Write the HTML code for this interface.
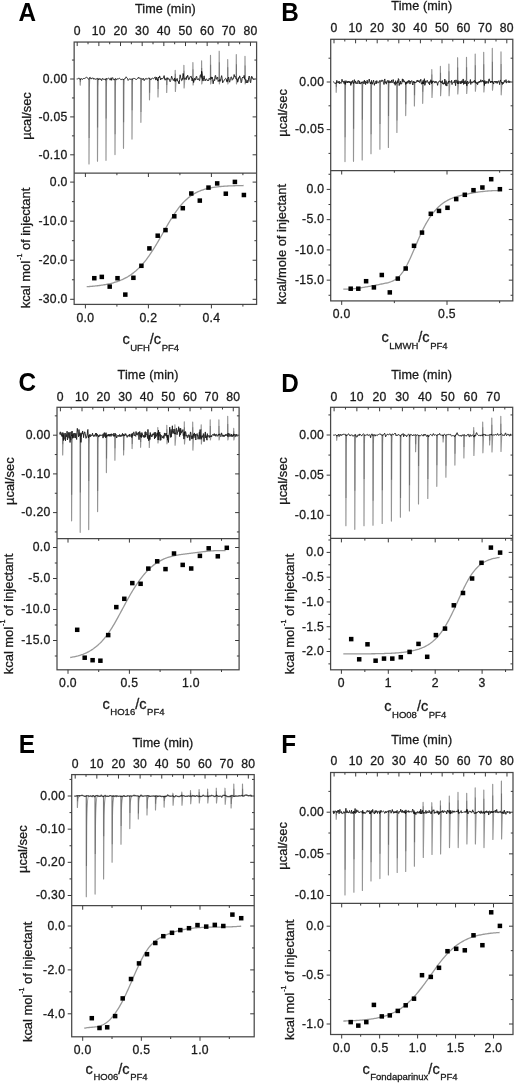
<!DOCTYPE html>
<html><head><meta charset="utf-8"><title>ITC figure</title>
<style>html,body{margin:0;padding:0;background:#fff;}svg{display:block;will-change:transform;}text{font-family:"Liberation Sans", sans-serif;stroke:#1a1a1a;stroke-width:0.3px;}.L{stroke:none;}.t{letter-spacing:0.3px;}</style>
</head><body>
<svg width="520" height="1083" viewBox="0 0 520 1083">
<rect width="520" height="1083" fill="#fff"/>
<text transform="translate(18.60,20.90) scale(0.95,1)" font-size="25.6" font-weight="bold" fill="#000" class="L">A</text>
<rect x="74.15" y="42.05" width="182.45" height="262.35" fill="none" stroke="#484848" stroke-width="1.25"/>
<line x1="74.15" y1="173.00" x2="256.60" y2="173.00" stroke="#484848" stroke-width="1.25"/>
<text x="77.20" y="34.90" text-anchor="middle" class="t" font-size="12.2" fill="#1a1a1a">0</text>
<text x="98.86" y="34.90" text-anchor="middle" class="t" font-size="12.2" fill="#1a1a1a">10</text>
<text x="120.52" y="34.90" text-anchor="middle" class="t" font-size="12.2" fill="#1a1a1a">20</text>
<text x="142.18" y="34.90" text-anchor="middle" class="t" font-size="12.2" fill="#1a1a1a">30</text>
<text x="163.84" y="34.90" text-anchor="middle" class="t" font-size="12.2" fill="#1a1a1a">40</text>
<text x="185.50" y="34.90" text-anchor="middle" class="t" font-size="12.2" fill="#1a1a1a">50</text>
<text x="207.16" y="34.90" text-anchor="middle" class="t" font-size="12.2" fill="#1a1a1a">60</text>
<text x="228.82" y="34.90" text-anchor="middle" class="t" font-size="12.2" fill="#1a1a1a">70</text>
<text x="250.48" y="34.90" text-anchor="middle" class="t" font-size="12.2" fill="#1a1a1a">80</text>
<text x="165.38" y="12.90" text-anchor="middle" font-size="12.6" letter-spacing="0.12" fill="#1a1a1a">Time (min)</text>
<text x="67.70" y="82.80" text-anchor="end" class="t" font-size="12.2" fill="#1a1a1a">0.00</text>
<text x="67.70" y="120.70" text-anchor="end" class="t" font-size="12.2" fill="#1a1a1a">-0.05</text>
<text x="67.70" y="158.60" text-anchor="end" class="t" font-size="12.2" fill="#1a1a1a">-0.10</text>
<text x="67.70" y="185.90" text-anchor="end" class="t" font-size="12.2" fill="#1a1a1a">0.0</text>
<text x="67.70" y="224.97" text-anchor="end" class="t" font-size="12.2" fill="#1a1a1a">-10.0</text>
<text x="67.70" y="264.04" text-anchor="end" class="t" font-size="12.2" fill="#1a1a1a">-20.0</text>
<text x="67.70" y="303.11" text-anchor="end" class="t" font-size="12.2" fill="#1a1a1a">-30.0</text>
<text x="85.40" y="321.70" text-anchor="middle" class="t" font-size="12.2" fill="#1a1a1a">0.0</text>
<text x="148.40" y="321.70" text-anchor="middle" class="t" font-size="12.2" fill="#1a1a1a">0.2</text>
<text x="211.40" y="321.70" text-anchor="middle" class="t" font-size="12.2" fill="#1a1a1a">0.4</text>
<path d="M77.20 42.05L77.20 46.05 M88.03 42.05L88.03 44.25 M98.86 42.05L98.86 46.05 M109.69 42.05L109.69 44.25 M120.52 42.05L120.52 46.05 M131.35 42.05L131.35 44.25 M142.18 42.05L142.18 46.05 M153.01 42.05L153.01 44.25 M163.84 42.05L163.84 46.05 M174.67 42.05L174.67 44.25 M185.50 42.05L185.50 46.05 M196.33 42.05L196.33 44.25 M207.16 42.05L207.16 46.05 M217.99 42.05L217.99 44.25 M228.82 42.05L228.82 46.05 M239.65 42.05L239.65 44.25 M250.48 42.05L250.48 46.05 M71.95 60.05L74.15 60.05 M254.40 60.05L256.60 60.05 M70.15 79.00L74.15 79.00 M252.60 79.00L256.60 79.00 M71.95 97.95L74.15 97.95 M254.40 97.95L256.60 97.95 M70.15 116.90L74.15 116.90 M252.60 116.90L256.60 116.90 M71.95 135.85L74.15 135.85 M254.40 135.85L256.60 135.85 M70.15 154.80L74.15 154.80 M252.60 154.80L256.60 154.80 M70.15 182.10L74.15 182.10 M252.60 182.10L256.60 182.10 M71.95 201.63L74.15 201.63 M254.40 201.63L256.60 201.63 M70.15 221.17L74.15 221.17 M252.60 221.17L256.60 221.17 M71.95 240.70L74.15 240.70 M254.40 240.70L256.60 240.70 M70.15 260.24L74.15 260.24 M252.60 260.24L256.60 260.24 M71.95 279.77L74.15 279.77 M254.40 279.77L256.60 279.77 M70.15 299.31L74.15 299.31 M252.60 299.31L256.60 299.31 M85.40 304.40L85.40 308.40 M85.40 173.00L85.40 177.00 M116.90 304.40L116.90 306.60 M116.90 173.00L116.90 175.20 M148.40 304.40L148.40 308.40 M148.40 173.00L148.40 177.00 M179.90 304.40L179.90 306.60 M179.90 173.00L179.90 175.20 M211.40 304.40L211.40 308.40 M211.40 173.00L211.40 177.00 M242.90 304.40L242.90 306.60 M242.90 173.00L242.90 175.20" stroke="#3a3a3a" stroke-width="1.0" fill="none"/>
<text x="122.40" y="344.00" font-size="14.5" fill="#1a1a1a">c<tspan font-size="9.5" dx="0.6" dy="6.6">UFH</tspan><tspan dy="-6.6">/c</tspan><tspan font-size="9.5" dx="0.6" dy="6.6">PF4</tspan></text>
<text transform="translate(30.60,116.00) rotate(-90)" x="0" y="0" text-anchor="middle" font-size="12.9" fill="#1a1a1a">µcal/sec</text>
<text transform="translate(30.40,248.00) rotate(-90)" x="0" y="0" text-anchor="middle" font-size="12.9" fill="#1a1a1a">kcal mol<tspan font-size="7.10" dx="1.0" dy="-8">-1</tspan><tspan dy="8"> of injectant</tspan></text>
<path d="M76.65 79.00 L77.15 79.16 L77.65 79.01 L78.15 78.37 L78.65 78.27 L79.15 78.22 L79.65 78.49 L80.15 79.76 L80.65 79.46 L81.15 78.39 L81.65 78.93 L82.15 79.46 L82.65 79.25 L83.15 78.55 L83.65 78.47 L84.15 78.38 L84.65 78.64 L85.15 78.01 L85.65 77.70 L86.15 77.25 L86.65 77.28 L87.15 77.86 L87.65 78.17 L88.15 78.45 L88.65 79.24 L89.15 78.98 L89.65 77.50 L90.15 77.31 L90.65 78.67 L91.15 79.04 L91.65 78.21 L92.15 77.88 L92.65 78.19 L93.15 78.00 L93.65 79.14 L94.15 79.14 L94.65 78.53 L95.15 79.48 L95.65 79.17 L96.15 78.61 L96.65 79.00 L97.15 79.10 L97.65 78.35 L98.15 78.35 L98.65 79.81 L99.15 78.89 L99.65 78.61 L100.15 79.55 L100.65 78.71 L101.15 79.77 L101.65 80.56 L102.15 78.75 L102.65 78.36 L103.15 79.37 L103.65 79.22 L104.15 79.28 L104.65 79.35 L105.15 79.34 L105.65 80.20 L106.15 78.14 L106.65 78.73 L107.15 78.85 L107.65 78.81 L108.15 78.39 L108.65 77.99 L109.15 78.56 L109.65 79.40 L110.15 80.17 L110.65 78.90 L111.15 77.78 L111.65 80.31 L112.15 78.23 L112.65 77.58 L113.15 78.68 L113.65 79.67 L114.15 80.12 L114.65 79.21 L115.15 78.60 L115.65 78.64 L116.15 79.74 L116.65 79.64 L117.15 78.57 L117.65 79.03 L118.15 79.13 L118.65 78.81 L119.15 78.24 L119.65 78.34 L120.15 78.73 L120.65 79.42 L121.15 80.06 L121.65 79.37 L122.15 79.38 L122.65 79.19 L123.15 79.42 L123.65 79.61 L124.15 79.34 L124.65 78.58 L125.15 78.44 L125.65 78.21 L126.15 76.80 L126.65 77.62 L127.15 78.29 L127.65 78.56 L128.15 80.43 L128.65 79.84 L129.15 79.22 L129.65 78.75 L130.15 79.41 L130.65 79.19 L131.15 78.77 L131.65 79.30 L132.15 79.73 L132.65 78.69 L133.15 78.34 L133.65 78.97 L134.15 78.39 L134.65 78.52 L135.15 78.64 L135.65 79.07 L136.15 79.70 L136.65 79.17 L137.15 78.70 L137.65 78.57 L138.15 77.73 L138.65 77.11 L139.15 78.54 L139.65 77.93 L140.15 78.23 L140.65 78.46 L141.15 78.40 L141.65 78.95 L142.15 78.96 L142.65 79.55 L143.15 78.15 L143.65 78.83 L144.15 80.64 L144.65 79.84 L145.15 78.79 L145.65 78.74 L146.15 78.31 L146.65 79.08 L147.15 79.34 L147.65 78.64 L148.15 78.48 L148.65 78.13 L149.15 77.83 L149.65 78.99 L150.15 78.62 L150.65 79.54 L151.15 79.68 L151.65 78.50 L152.15 78.22 L152.65 78.29 L153.15 78.54 L153.65 78.68 L154.15 78.39 L154.65 77.42 L155.15 76.87 L155.65 79.86 L156.15 80.03 L156.65 77.13 L157.15 78.20 L157.65 81.01 L158.15 78.94 L158.65 76.97 L159.15 77.94 L159.65 75.91 L160.15 77.64 L160.65 79.97 L161.15 79.07 L161.65 78.02 L162.15 78.57 L162.65 78.88 L163.15 78.00 L163.65 77.17 L164.15 75.61 L164.65 79.17 L165.15 80.21 L165.65 78.69 L166.15 79.38 L166.65 78.31 L167.15 77.61 L167.65 79.18 L168.15 79.48 L168.65 78.34 L169.15 78.81 L169.65 80.76 L170.15 81.72 L170.65 80.56 L171.15 78.73 L171.65 76.15 L172.15 78.37 L172.65 78.37 L173.15 80.21 L173.65 79.59 L174.15 80.94 L174.65 77.98 L175.15 81.58 L175.65 79.68 L176.15 80.56 L176.65 79.39 L177.15 78.43 L177.65 80.99 L178.15 81.01 L178.65 83.05 L179.15 83.95 L179.65 79.50 L180.15 74.82 L180.65 77.72 L181.15 78.71 L181.65 80.65 L182.15 80.22 L182.65 77.81 L183.15 73.46 L183.65 76.27 L184.15 79.45 L184.65 78.70 L185.15 78.69 L185.65 77.79 L186.15 79.70 L186.65 76.52 L187.15 77.32 L187.65 75.13 L188.15 77.32 L188.65 79.66 L189.15 79.51 L189.65 78.14 L190.15 76.56 L190.65 76.54 L191.15 76.20 L191.65 77.98 L192.15 80.96 L192.65 78.37 L193.15 80.03 L193.65 82.51 L194.15 79.94 L194.65 78.25 L195.15 80.19 L195.65 78.85 L196.15 76.82 L196.65 76.16 L197.15 79.42 L197.65 79.98 L198.15 79.00 L198.65 78.69 L199.15 80.29 L199.65 80.69 L200.15 75.69 L200.65 74.69 L201.15 77.47 L201.65 71.22 L202.15 73.36 L202.65 80.20 L203.15 81.06 L203.65 77.32 L204.15 75.84 L204.65 79.28 L205.15 80.92 L205.65 79.31 L206.15 78.99 L206.65 78.98 L207.15 80.26 L207.65 81.03 L208.15 80.15 L208.65 80.65 L209.15 78.20 L209.65 78.74 L210.15 79.61 L210.65 78.73 L211.15 76.89 L211.65 78.78 L212.15 77.00 L212.65 79.60 L213.15 83.77 L213.65 80.50 L214.15 79.46 L214.65 80.73 L215.15 75.64 L215.65 75.45 L216.15 79.28 L216.65 79.03 L217.15 77.51 L217.65 76.98 L218.15 81.48 L218.65 80.52 L219.15 81.29 L219.65 79.50 L220.15 81.29 L220.65 80.47 L221.15 77.58 L221.65 75.67 L222.15 78.63 L222.65 82.82 L223.15 81.84 L223.65 81.39 L224.15 80.18 L224.65 79.49 L225.15 78.94 L225.65 78.31 L226.15 78.77 L226.65 81.37 L227.15 82.13 L227.65 79.75 L228.15 78.04 L228.65 77.16 L229.15 80.46 L229.65 82.19 L230.15 79.87 L230.65 78.58 L231.15 76.80 L231.65 77.22 L232.15 80.22 L232.65 79.73 L233.15 78.06 L233.65 78.32 L234.15 74.55 L234.65 76.75 L235.15 76.22 L235.65 77.34 L236.15 79.05 L236.65 79.17 L237.15 78.71 L237.65 82.19 L238.15 80.84 L238.65 77.61 L239.15 78.38 L239.65 75.87 L240.15 77.48 L240.65 78.19 L241.15 82.77 L241.65 81.68 L242.15 78.30 L242.65 77.10 L243.15 77.89 L243.65 77.58 L244.15 75.41 L244.65 79.26 L245.15 79.57 L245.65 79.27 L246.15 82.98 L246.65 81.72 L247.15 80.24 L247.65 82.83 L248.15 81.68 L248.65 77.79 L249.15 76.02 L249.65 76.99 L250.15 81.33 L250.65 82.73 L251.15 79.03 L251.65 76.25 L252.15 76.92 L252.65 78.68 L253.15 79.13 L253.65 79.01 L254.15 79.78" stroke="#262626" stroke-width="1.0" fill="none" stroke-linejoin="round"/>
<path d="M80.10 79.00L80.20 85.10L80.55 79.61C80.80 79.18 80.65 79.40 81.10 79.00 M88.90 79.00L89.00 163.90L89.35 87.49C89.60 81.55 89.45 79.40 89.90 79.00 M97.40 79.00L97.50 161.20L97.85 87.22C98.10 81.47 97.95 79.40 98.40 79.00 M105.90 79.00L106.00 160.30L106.35 87.13C106.60 81.44 106.45 79.40 106.90 79.00 M114.90 79.00L115.00 154.60L115.35 86.56C115.60 81.27 115.45 79.40 115.90 79.00 M123.40 79.00L123.50 148.30L123.85 85.93C124.10 81.08 123.95 79.40 124.40 79.00 M131.90 79.00L132.00 139.10L132.35 85.01C132.60 80.80 132.45 79.40 132.90 79.00 M140.80 79.00L140.90 122.30L141.25 83.33C141.50 80.30 141.35 79.40 141.80 79.00 M149.40 79.00L149.50 99.80L149.85 81.08C150.10 79.62 149.95 79.40 150.40 79.00 M157.90 79.00L158.00 97.00L158.35 80.80C158.60 79.54 158.45 79.40 158.90 79.00 M166.60 79.00L166.70 92.40L167.05 80.34C167.30 79.40 167.15 79.40 167.60 79.00 M175.10 79.00L175.20 70.40L175.40 91.50L176.10 79.00 M183.80 79.00L183.90 65.30L184.10 88.00L184.80 79.00 M192.80 79.00L192.90 62.60L193.10 85.00L193.80 79.00 M201.50 79.00L201.60 60.80L201.80 84.00L202.50 79.00 M210.40 79.00L210.50 55.40L210.70 84.00L211.40 79.00 M219.10 79.00L219.20 51.20L219.40 84.00L220.10 79.00 M227.60 79.00L227.70 59.50L227.90 84.00L228.60 79.00 M236.20 79.00L236.30 54.50L236.50 84.00L237.20 79.00 M244.90 79.00L245.00 56.30L245.20 84.00L245.90 79.00" stroke="#000" stroke-opacity="0.42" stroke-width="1.15" fill="none" stroke-linejoin="round"/>
<path d="M80.35 79.00L80.35 81.75 M89.15 79.00L89.15 138.01 M97.65 79.00L97.65 127.50 M106.15 79.00L106.15 118.43 M115.15 79.00L115.15 134.19 M123.65 79.00L123.65 122.31 M132.15 79.00L132.15 110.25 M141.05 79.00L141.05 112.12 M149.65 79.00L149.65 92.73 M158.15 79.00L158.15 88.99 M166.85 79.00L166.85 85.03 M175.35 79.00L175.35 73.84 M184.05 79.00L184.05 70.78 M193.05 79.00L193.05 69.16 M201.75 79.00L201.75 68.08 M210.65 79.00L210.65 64.84 M219.35 79.00L219.35 62.32 M227.85 79.00L227.85 67.30 M236.45 79.00L236.45 64.30 M245.15 79.00L245.15 65.38" stroke="#000" stroke-opacity="0.24" stroke-width="1.15" fill="none"/>
<path d="M86.70 286.71 L87.69 286.65 L88.67 286.58 L89.66 286.50 L90.65 286.43 L91.63 286.34 L92.62 286.26 L93.61 286.16 L94.59 286.07 L95.58 285.97 L96.57 285.86 L97.55 285.74 L98.54 285.62 L99.53 285.50 L100.52 285.36 L101.50 285.22 L102.49 285.07 L103.48 284.91 L104.46 284.74 L105.45 284.57 L106.44 284.38 L107.42 284.19 L108.41 283.98 L109.40 283.76 L110.38 283.53 L111.37 283.29 L112.36 283.03 L113.34 282.76 L114.33 282.48 L115.32 282.18 L116.30 281.86 L117.29 281.53 L118.28 281.18 L119.26 280.81 L120.25 280.42 L121.24 280.01 L122.22 279.58 L123.21 279.13 L124.20 278.65 L125.18 278.15 L126.17 277.62 L127.16 277.07 L128.15 276.49 L129.13 275.88 L130.12 275.24 L131.11 274.57 L132.09 273.87 L133.08 273.13 L134.07 272.36 L135.05 271.55 L136.04 270.71 L137.03 269.82 L138.01 268.90 L139.00 267.94 L139.99 266.94 L140.97 265.90 L141.96 264.82 L142.95 263.70 L143.93 262.53 L144.92 261.32 L145.91 260.07 L146.89 258.77 L147.88 257.44 L148.87 256.06 L149.85 254.64 L150.84 253.19 L151.83 251.69 L152.82 250.16 L153.80 248.60 L154.79 247.00 L155.78 245.38 L156.76 243.73 L157.75 242.05 L158.74 240.36 L159.72 238.65 L160.71 236.93 L161.70 235.20 L162.68 233.46 L163.67 231.72 L164.66 229.99 L165.64 228.27 L166.63 226.55 L167.62 224.86 L168.60 223.18 L169.59 221.52 L170.58 219.90 L171.56 218.30 L172.55 216.74 L173.54 215.22 L174.52 213.73 L175.51 212.29 L176.50 210.89 L177.48 209.54 L178.47 208.23 L179.46 206.97 L180.45 205.76 L181.43 204.60 L182.42 203.48 L183.41 202.42 L184.39 201.40 L185.38 200.44 L186.37 199.51 L187.35 198.64 L188.34 197.81 L189.33 197.02 L190.31 196.28 L191.30 195.57 L192.29 194.91 L193.27 194.28 L194.26 193.70 L195.25 193.14 L196.23 192.62 L197.22 192.13 L198.21 191.67 L199.19 191.24 L200.18 190.84 L201.17 190.46 L202.15 190.11 L203.14 189.78 L204.13 189.47 L205.12 189.18 L206.10 188.91 L207.09 188.66 L208.08 188.42 L209.06 188.21 L210.05 188.00 L211.04 187.81 L212.02 187.63 L213.01 187.47 L214.00 187.32 L214.98 187.17 L215.97 187.04 L216.96 186.92 L217.94 186.80 L218.93 186.70 L219.92 186.60 L220.90 186.51 L221.89 186.42 L222.88 186.34 L223.86 186.27 L224.85 186.20 L225.84 186.13 L226.82 186.07 L227.81 186.02 L228.80 185.97 L229.78 185.92 L230.77 185.88 L231.76 185.84 L232.75 185.80 L233.73 185.76 L234.72 185.73 L235.71 185.70 L236.69 185.67 L237.68 185.65 L238.67 185.62 L239.65 185.60 L240.64 185.58 L241.63 185.56 L242.61 185.54 L243.60 185.52" stroke="#999" stroke-width="1.3" fill="none"/>
<g fill="#000"><rect x="92.05" y="275.95" width="4.5" height="4.5"/><rect x="99.55" y="274.65" width="4.5" height="4.5"/><rect x="107.45" y="284.35" width="4.5" height="4.5"/><rect x="115.25" y="275.95" width="4.5" height="4.5"/><rect x="123.05" y="292.35" width="4.5" height="4.5"/><rect x="131.15" y="275.55" width="4.5" height="4.5"/><rect x="139.15" y="263.55" width="4.5" height="4.5"/><rect x="147.15" y="246.15" width="4.5" height="4.5"/><rect x="155.45" y="233.45" width="4.5" height="4.5"/><rect x="163.25" y="227.85" width="4.5" height="4.5"/><rect x="172.05" y="214.05" width="4.5" height="4.5"/><rect x="180.55" y="205.95" width="4.5" height="4.5"/><rect x="189.05" y="191.25" width="4.5" height="4.5"/><rect x="197.55" y="198.35" width="4.5" height="4.5"/><rect x="206.25" y="185.35" width="4.5" height="4.5"/><rect x="214.95" y="181.15" width="4.5" height="4.5"/><rect x="223.55" y="191.45" width="4.5" height="4.5"/><rect x="232.65" y="179.65" width="4.5" height="4.5"/><rect x="241.65" y="192.75" width="4.5" height="4.5"/></g>
<text transform="translate(281.30,20.70) scale(0.95,1)" font-size="25.6" font-weight="bold" fill="#000" class="L">B</text>
<rect x="330.70" y="39.30" width="182.10" height="261.60" fill="none" stroke="#484848" stroke-width="1.25"/>
<line x1="330.70" y1="170.50" x2="512.80" y2="170.50" stroke="#484848" stroke-width="1.25"/>
<text x="334.00" y="32.30" text-anchor="middle" class="t" font-size="12.2" fill="#1a1a1a">0</text>
<text x="355.60" y="32.30" text-anchor="middle" class="t" font-size="12.2" fill="#1a1a1a">10</text>
<text x="377.20" y="32.30" text-anchor="middle" class="t" font-size="12.2" fill="#1a1a1a">20</text>
<text x="398.80" y="32.30" text-anchor="middle" class="t" font-size="12.2" fill="#1a1a1a">30</text>
<text x="420.40" y="32.30" text-anchor="middle" class="t" font-size="12.2" fill="#1a1a1a">40</text>
<text x="442.00" y="32.30" text-anchor="middle" class="t" font-size="12.2" fill="#1a1a1a">50</text>
<text x="463.60" y="32.30" text-anchor="middle" class="t" font-size="12.2" fill="#1a1a1a">60</text>
<text x="485.20" y="32.30" text-anchor="middle" class="t" font-size="12.2" fill="#1a1a1a">70</text>
<text x="506.80" y="32.30" text-anchor="middle" class="t" font-size="12.2" fill="#1a1a1a">80</text>
<text x="421.75" y="9.80" text-anchor="middle" font-size="12.6" letter-spacing="0.12" fill="#1a1a1a">Time (min)</text>
<text x="324.25" y="85.80" text-anchor="end" class="t" font-size="12.2" fill="#1a1a1a">0.00</text>
<text x="324.25" y="133.40" text-anchor="end" class="t" font-size="12.2" fill="#1a1a1a">-0.05</text>
<text x="324.25" y="193.20" text-anchor="end" class="t" font-size="12.2" fill="#1a1a1a">0.0</text>
<text x="324.25" y="223.45" text-anchor="end" class="t" font-size="12.2" fill="#1a1a1a">-5.0</text>
<text x="324.25" y="253.70" text-anchor="end" class="t" font-size="12.2" fill="#1a1a1a">-10.0</text>
<text x="324.25" y="283.95" text-anchor="end" class="t" font-size="12.2" fill="#1a1a1a">-15.0</text>
<text x="341.70" y="318.20" text-anchor="middle" class="t" font-size="12.2" fill="#1a1a1a">0.0</text>
<text x="447.00" y="318.20" text-anchor="middle" class="t" font-size="12.2" fill="#1a1a1a">0.5</text>
<path d="M334.00 39.30L334.00 43.30 M344.80 39.30L344.80 41.50 M355.60 39.30L355.60 43.30 M366.40 39.30L366.40 41.50 M377.20 39.30L377.20 43.30 M388.00 39.30L388.00 41.50 M398.80 39.30L398.80 43.30 M409.60 39.30L409.60 41.50 M420.40 39.30L420.40 43.30 M431.20 39.30L431.20 41.50 M442.00 39.30L442.00 43.30 M452.80 39.30L452.80 41.50 M463.60 39.30L463.60 43.30 M474.40 39.30L474.40 41.50 M485.20 39.30L485.20 43.30 M496.00 39.30L496.00 41.50 M506.80 39.30L506.80 43.30 M328.50 58.20L330.70 58.20 M510.60 58.20L512.80 58.20 M326.70 82.00L330.70 82.00 M508.80 82.00L512.80 82.00 M328.50 105.80L330.70 105.80 M510.60 105.80L512.80 105.80 M326.70 129.60L330.70 129.60 M508.80 129.60L512.80 129.60 M328.50 153.40L330.70 153.40 M510.60 153.40L512.80 153.40 M328.50 174.28L330.70 174.28 M510.60 174.28L512.80 174.28 M326.70 189.40L330.70 189.40 M508.80 189.40L512.80 189.40 M328.50 204.53L330.70 204.53 M510.60 204.53L512.80 204.53 M326.70 219.65L330.70 219.65 M508.80 219.65L512.80 219.65 M328.50 234.78L330.70 234.78 M510.60 234.78L512.80 234.78 M326.70 249.90L330.70 249.90 M508.80 249.90L512.80 249.90 M328.50 265.02L330.70 265.02 M510.60 265.02L512.80 265.02 M326.70 280.15L330.70 280.15 M508.80 280.15L512.80 280.15 M328.50 295.27L330.70 295.27 M510.60 295.27L512.80 295.27 M341.70 300.90L341.70 304.90 M341.70 170.50L341.70 174.50 M394.35 300.90L394.35 303.10 M394.35 170.50L394.35 172.70 M447.00 300.90L447.00 304.90 M447.00 170.50L447.00 174.50 M499.65 300.90L499.65 303.10 M499.65 170.50L499.65 172.70" stroke="#3a3a3a" stroke-width="1.0" fill="none"/>
<text x="381.40" y="342.20" font-size="14.5" fill="#1a1a1a">c<tspan font-size="9.5" dx="0.6" dy="6.6">LMWH</tspan><tspan dy="-6.6">/c</tspan><tspan font-size="9.5" dx="0.6" dy="6.6">PF4</tspan></text>
<text transform="translate(286.90,112.90) rotate(-90)" x="0" y="0" text-anchor="middle" font-size="12.9" fill="#1a1a1a">µcal/sec</text>
<text transform="translate(286.00,244.20) rotate(-90)" x="0" y="0" text-anchor="middle" font-size="12.9" fill="#1a1a1a">kcal/mole of injectant</text>
<path d="M333.20 81.33 L333.60 81.72 L334.00 82.42 L334.40 82.83 L334.80 83.45 L335.20 83.48 L335.60 83.45 L336.00 83.66 L336.40 82.86 L336.80 80.35 L337.20 81.95 L337.60 82.46 L338.00 81.66 L338.40 83.14 L338.80 81.69 L339.20 81.04 L339.60 83.75 L340.00 82.86 L340.40 82.35 L340.80 83.16 L341.20 83.32 L341.60 82.49 L342.00 79.28 L342.40 81.32 L342.80 81.58 L343.20 80.97 L343.60 82.33 L344.00 83.47 L344.40 81.54 L344.80 80.79 L345.20 84.44 L345.60 81.58 L346.00 80.68 L346.40 82.37 L346.80 82.59 L347.20 81.29 L347.60 83.01 L348.00 81.54 L348.40 81.03 L348.80 82.31 L349.20 82.99 L349.60 81.37 L350.00 82.48 L350.40 81.99 L350.80 85.37 L351.20 81.28 L351.60 83.70 L352.00 82.04 L352.40 81.95 L352.80 80.39 L353.20 83.14 L353.60 83.57 L354.00 82.48 L354.40 79.66 L354.80 81.48 L355.20 82.69 L355.60 80.98 L356.00 83.73 L356.40 82.59 L356.80 83.33 L357.20 83.87 L357.60 82.29 L358.00 80.37 L358.40 80.73 L358.80 80.42 L359.20 83.96 L359.60 81.11 L360.00 83.54 L360.40 82.78 L360.80 84.10 L361.20 83.27 L361.60 81.98 L362.00 81.87 L362.40 82.20 L362.80 82.31 L363.20 81.48 L363.60 82.06 L364.00 83.98 L364.40 80.11 L364.80 82.40 L365.20 81.04 L365.60 84.64 L366.00 83.09 L366.40 82.03 L366.80 83.01 L367.20 80.23 L367.60 83.40 L368.00 83.35 L368.40 82.83 L368.80 82.31 L369.20 79.06 L369.60 81.21 L370.00 82.36 L370.40 83.93 L370.80 82.44 L371.20 82.40 L371.60 80.43 L372.00 83.79 L372.40 84.23 L372.80 82.13 L373.20 81.84 L373.60 80.19 L374.00 83.14 L374.40 85.29 L374.80 82.95 L375.20 83.60 L375.60 82.74 L376.00 80.93 L376.40 83.68 L376.80 80.64 L377.20 81.85 L377.60 82.43 L378.00 83.15 L378.40 82.59 L378.80 82.56 L379.20 81.20 L379.60 80.57 L380.00 82.17 L380.40 81.26 L380.80 80.55 L381.20 80.59 L381.60 81.52 L382.00 79.90 L382.40 80.50 L382.80 80.15 L383.20 82.32 L383.60 82.59 L384.00 84.49 L384.40 80.31 L384.80 78.94 L385.20 83.19 L385.60 81.84 L386.00 81.71 L386.40 84.14 L386.80 81.70 L387.20 80.72 L387.60 80.52 L388.00 82.50 L388.40 82.47 L388.80 80.46 L389.20 80.92 L389.60 82.74 L390.00 82.79 L390.40 81.33 L390.80 82.85 L391.20 82.79 L391.60 79.96 L392.00 81.73 L392.40 82.60 L392.80 81.41 L393.20 79.53 L393.60 81.76 L394.00 83.00 L394.40 84.00 L394.80 81.95 L395.20 85.25 L395.60 80.74 L396.00 83.25 L396.40 83.59 L396.80 83.29 L397.20 82.28 L397.60 80.70 L398.00 82.86 L398.40 78.59 L398.80 79.05 L399.20 85.52 L399.60 82.96 L400.00 84.30 L400.40 81.00 L400.80 83.88 L401.20 84.02 L401.60 83.98 L402.00 82.07 L402.40 78.86 L402.80 81.89 L403.20 79.43 L403.60 80.04 L404.00 82.21 L404.40 80.90 L404.80 81.90 L405.20 81.97 L405.60 84.45 L406.00 83.68 L406.40 82.05 L406.80 83.57 L407.20 81.15 L407.60 81.69 L408.00 83.21 L408.40 80.59 L408.80 81.76 L409.20 80.49 L409.60 82.24 L410.00 84.09 L410.40 81.18 L410.80 82.38 L411.20 81.00 L411.60 80.70 L412.00 80.59 L412.40 83.88 L412.80 84.99 L413.20 82.69 L413.60 81.22 L414.00 82.96 L414.40 81.69 L414.80 83.08 L415.20 82.46 L415.60 82.44 L416.00 82.84 L416.40 81.39 L416.80 81.60 L417.20 79.99 L417.60 81.56 L418.00 80.35 L418.40 81.92 L418.80 80.92 L419.20 82.22 L419.60 82.66 L420.00 80.35 L420.40 81.10 L420.80 79.24 L421.20 83.02 L421.60 84.20 L422.00 83.15 L422.40 81.67 L422.80 83.90 L423.20 80.24 L423.60 83.94 L424.00 81.30 L424.40 78.69 L424.80 85.35 L425.20 84.03 L425.60 80.84 L426.00 82.31 L426.40 81.84 L426.80 82.23 L427.20 80.29 L427.60 81.27 L428.00 82.67 L428.40 82.37 L428.80 83.56 L429.20 82.20 L429.60 84.97 L430.00 81.23 L430.40 82.42 L430.80 79.76 L431.20 80.57 L431.60 83.72 L432.00 80.95 L432.40 82.75 L432.80 82.02 L433.20 80.83 L433.60 81.68 L434.00 81.47 L434.40 81.51 L434.80 83.02 L435.20 82.89 L435.60 81.40 L436.00 81.00 L436.40 82.44 L436.80 81.98 L437.20 83.35 L437.60 85.32 L438.00 83.12 L438.40 82.06 L438.80 81.89 L439.20 81.06 L439.60 81.00 L440.00 80.89 L440.40 81.62 L440.80 81.58 L441.20 83.00 L441.60 81.62 L442.00 81.86 L442.40 80.63 L442.80 84.08 L443.20 82.71 L443.60 84.26 L444.00 83.06 L444.40 83.90 L444.80 79.05 L445.20 82.96 L445.60 85.36 L446.00 80.63 L446.40 83.52 L446.80 86.09 L447.20 82.61 L447.60 83.02 L448.00 83.64 L448.40 81.30 L448.80 82.60 L449.20 81.03 L449.60 81.27 L450.00 81.34 L450.40 81.92 L450.80 82.28 L451.20 82.65 L451.60 80.36 L452.00 84.53 L452.40 83.52 L452.80 82.99 L453.20 81.66 L453.60 81.99 L454.00 82.77 L454.40 82.60 L454.80 80.04 L455.20 83.01 L455.60 85.67 L456.00 79.84 L456.40 81.56 L456.80 82.55 L457.20 81.96 L457.60 83.78 L458.00 80.65 L458.40 82.30 L458.80 83.89 L459.20 81.86 L459.60 81.59 L460.00 82.24 L460.40 81.56 L460.80 83.99 L461.20 80.99 L461.60 83.16 L462.00 80.57 L462.40 82.92 L462.80 81.97 L463.20 78.95 L463.60 84.42 L464.00 80.80 L464.40 81.56 L464.80 83.97 L465.20 80.74 L465.60 80.81 L466.00 83.85 L466.40 82.24 L466.80 85.74 L467.20 82.49 L467.60 81.03 L468.00 82.02 L468.40 83.59 L468.80 83.24 L469.20 82.10 L469.60 82.16 L470.00 81.96 L470.40 79.56 L470.80 84.44 L471.20 82.11 L471.60 82.77 L472.00 81.52 L472.40 82.98 L472.80 82.88 L473.20 81.93 L473.60 81.29 L474.00 82.13 L474.40 80.08 L474.80 80.53 L475.20 83.06 L475.60 81.52 L476.00 82.55 L476.40 83.57 L476.80 82.88 L477.20 82.12 L477.60 84.66 L478.00 82.90 L478.40 81.67 L478.80 82.98 L479.20 82.59 L479.60 81.07 L480.00 82.19 L480.40 81.90 L480.80 79.74 L481.20 81.89 L481.60 81.76 L482.00 81.57 L482.40 80.13 L482.80 81.67 L483.20 82.05 L483.60 82.22 L484.00 80.74 L484.40 85.48 L484.80 80.65 L485.20 81.83 L485.60 83.66 L486.00 81.27 L486.40 81.49 L486.80 83.38 L487.20 81.64 L487.60 81.75 L488.00 82.36 L488.40 83.35 L488.80 79.47 L489.20 78.84 L489.60 80.90 L490.00 80.81 L490.40 82.96 L490.80 81.10 L491.20 82.46 L491.60 81.05 L492.00 82.25 L492.40 82.58 L492.80 81.24 L493.20 82.25 L493.60 84.04 L494.00 82.48 L494.40 81.35 L494.80 82.02 L495.20 81.02 L495.60 82.42 L496.00 83.12 L496.40 81.14 L496.80 81.85 L497.20 83.41 L497.60 81.52 L498.00 82.32 L498.40 80.90 L498.80 81.14 L499.20 81.50 L499.60 84.60 L500.00 81.63 L500.40 79.95 L500.80 81.45 L501.20 81.91 L501.60 82.85 L502.00 82.32 L502.40 84.46 L502.80 82.34 L503.20 83.76 L503.60 82.42 L504.00 82.79 L504.40 80.45 L504.80 81.95 L505.20 82.02 L505.60 81.82 L506.00 79.64 L506.40 83.11 L506.80 81.66 L507.20 81.60 L507.60 81.81 L508.00 81.84 L508.40 82.56 L508.80 80.65 L509.20 81.04 L509.60 82.43 L510.00 82.27 L510.40 81.67" stroke="#262626" stroke-width="1.0" fill="none" stroke-linejoin="round"/>
<path d="M336.10 82.10L336.20 92.30L336.55 83.12C336.80 82.41 336.65 82.50 337.10 82.10 M344.90 82.10L345.00 161.60L345.35 90.05C345.60 84.48 345.45 82.50 345.90 82.10 M353.40 82.10L353.50 161.30L353.85 90.02C354.10 84.48 353.95 82.50 354.40 82.10 M362.10 82.10L362.20 159.90L362.55 89.88C362.80 84.43 362.65 82.50 363.10 82.10 M370.90 82.10L371.00 153.70L371.35 89.26C371.60 84.25 371.45 82.50 371.90 82.10 M379.80 82.10L379.90 149.20L380.25 88.81C380.50 84.11 380.35 82.50 380.80 82.10 M388.30 82.10L388.40 147.50L388.75 88.64C389.00 84.06 388.85 82.50 389.30 82.10 M396.80 82.10L396.90 132.40L397.25 87.13C397.50 83.61 397.35 82.50 397.80 82.10 M405.60 82.10L405.70 115.60L406.05 85.45C406.30 83.10 406.15 82.50 406.60 82.10 M414.30 82.10L414.40 105.90L414.75 84.48C415.00 82.81 414.85 82.50 415.30 82.10 M422.60 82.10L422.70 103.30L423.05 84.22C423.30 82.74 423.15 82.50 423.60 82.10 M431.70 82.10L431.80 69.50L432.00 97.50L432.70 82.10 M440.30 82.10L440.40 66.40L440.60 95.70L441.30 82.10 M448.80 82.10L448.90 64.00L449.10 95.70L449.80 82.10 M457.50 82.10L457.60 57.70L457.80 93.90L458.50 82.10 M466.40 82.10L466.50 57.30L466.70 93.50L467.40 82.10 M475.10 82.10L475.20 54.10L475.40 91.20L476.10 82.10 M483.60 82.10L483.70 52.30L483.90 92.00L484.60 82.10 M492.20 82.10L492.30 48.30L492.50 90.20L493.20 82.10 M500.90 82.10L501.00 51.90L501.20 94.80L501.90 82.10" stroke="#000" stroke-opacity="0.42" stroke-width="1.15" fill="none" stroke-linejoin="round"/>
<path d="M336.35 82.10L336.35 86.69 M345.15 82.10L345.15 137.35 M353.65 82.10L353.65 128.83 M362.35 82.10L362.35 119.83 M371.15 82.10L371.15 134.37 M380.05 82.10L380.05 124.04 M388.55 82.10L388.55 116.11 M397.05 82.10L397.05 120.58 M405.85 82.10L405.85 104.21 M414.55 82.10L414.55 95.31 M422.85 82.10L422.85 91.64 M431.95 82.10L431.95 74.54 M440.55 82.10L440.55 72.68 M449.05 82.10L449.05 71.24 M457.75 82.10L457.75 67.46 M466.65 82.10L466.65 67.22 M475.35 82.10L475.35 65.30 M483.85 82.10L483.85 64.22 M492.45 82.10L492.45 61.82 M501.15 82.10L501.15 63.98" stroke="#000" stroke-opacity="0.24" stroke-width="1.15" fill="none"/>
<path d="M343.30 289.22 L344.28 289.22 L345.27 289.20 L346.25 289.17 L347.23 289.14 L348.22 289.09 L349.20 289.04 L350.18 288.97 L351.16 288.90 L352.15 288.82 L353.13 288.73 L354.11 288.63 L355.10 288.53 L356.08 288.42 L357.06 288.30 L358.05 288.18 L359.03 288.05 L360.01 287.91 L360.99 287.77 L361.98 287.62 L362.96 287.47 L363.94 287.31 L364.93 287.15 L365.91 286.98 L366.89 286.81 L367.88 286.64 L368.86 286.46 L369.84 286.28 L370.82 286.10 L371.81 285.91 L372.79 285.73 L373.77 285.54 L374.76 285.35 L375.74 285.16 L376.72 284.96 L377.71 284.77 L378.69 284.58 L379.67 284.38 L380.65 284.19 L381.64 284.00 L382.62 283.81 L383.60 283.62 L384.59 283.43 L385.57 283.22 L386.55 283.01 L387.54 282.77 L388.52 282.51 L389.50 282.22 L390.48 281.88 L391.47 281.51 L392.45 281.08 L393.43 280.60 L394.42 280.05 L395.40 279.43 L396.38 278.74 L397.37 277.97 L398.35 277.11 L399.33 276.16 L400.32 275.11 L401.30 273.96 L402.28 272.69 L403.26 271.31 L404.25 269.80 L405.23 268.17 L406.21 266.42 L407.20 264.57 L408.18 262.61 L409.16 260.58 L410.15 258.47 L411.13 256.30 L412.11 254.08 L413.09 251.82 L414.08 249.53 L415.06 247.23 L416.04 244.92 L417.03 242.62 L418.01 240.33 L418.99 238.07 L419.98 235.85 L420.96 233.68 L421.94 231.57 L422.92 229.54 L423.91 227.59 L424.89 225.71 L425.87 223.92 L426.86 222.20 L427.84 220.55 L428.82 218.98 L429.81 217.48 L430.79 216.05 L431.77 214.69 L432.75 213.38 L433.74 212.15 L434.72 210.97 L435.70 209.86 L436.69 208.80 L437.67 207.79 L438.65 206.84 L439.64 205.94 L440.62 205.09 L441.60 204.29 L442.58 203.54 L443.57 202.83 L444.55 202.16 L445.53 201.53 L446.52 200.94 L447.50 200.38 L448.48 199.86 L449.47 199.38 L450.45 198.92 L451.43 198.49 L452.42 198.09 L453.40 197.71 L454.38 197.36 L455.36 197.03 L456.35 196.72 L457.33 196.42 L458.31 196.14 L459.30 195.88 L460.28 195.62 L461.26 195.38 L462.25 195.14 L463.23 194.91 L464.21 194.68 L465.19 194.46 L466.18 194.25 L467.16 194.04 L468.14 193.83 L469.13 193.63 L470.11 193.44 L471.09 193.26 L472.08 193.07 L473.06 192.90 L474.04 192.73 L475.02 192.57 L476.01 192.41 L476.99 192.26 L477.97 192.12 L478.96 191.98 L479.94 191.84 L480.92 191.72 L481.91 191.60 L482.89 191.49 L483.87 191.38 L484.85 191.28 L485.84 191.19 L486.82 191.10 L487.80 191.02 L488.79 190.95 L489.77 190.88 L490.75 190.82 L491.74 190.77 L492.72 190.72 L493.70 190.68 L494.68 190.65 L495.67 190.63 L496.65 190.61 L497.63 190.60 L498.62 190.60 L499.60 190.60" stroke="#999" stroke-width="1.3" fill="none"/>
<g fill="#000"><rect x="348.45" y="286.45" width="4.5" height="4.5"/><rect x="356.05" y="286.45" width="4.5" height="4.5"/><rect x="363.85" y="278.95" width="4.5" height="4.5"/><rect x="371.65" y="285.15" width="4.5" height="4.5"/><rect x="379.55" y="272.75" width="4.5" height="4.5"/><rect x="387.55" y="290.15" width="4.5" height="4.5"/><rect x="395.55" y="276.35" width="4.5" height="4.5"/><rect x="403.45" y="266.25" width="4.5" height="4.5"/><rect x="411.75" y="243.55" width="4.5" height="4.5"/><rect x="419.75" y="230.35" width="4.5" height="4.5"/><rect x="428.55" y="211.55" width="4.5" height="4.5"/><rect x="436.75" y="208.65" width="4.5" height="4.5"/><rect x="445.25" y="205.55" width="4.5" height="4.5"/><rect x="453.95" y="196.85" width="4.5" height="4.5"/><rect x="462.55" y="192.55" width="4.5" height="4.5"/><rect x="471.25" y="187.95" width="4.5" height="4.5"/><rect x="480.15" y="185.25" width="4.5" height="4.5"/><rect x="488.95" y="176.95" width="4.5" height="4.5"/><rect x="497.65" y="186.95" width="4.5" height="4.5"/></g>
<text transform="translate(18.60,391.00) scale(0.95,1)" font-size="25.6" font-weight="bold" fill="#000" class="L">C</text>
<rect x="57.00" y="407.30" width="182.10" height="262.50" fill="none" stroke="#484848" stroke-width="1.25"/>
<line x1="57.00" y1="538.60" x2="239.10" y2="538.60" stroke="#484848" stroke-width="1.25"/>
<text x="60.40" y="400.90" text-anchor="middle" class="t" font-size="12.2" fill="#1a1a1a">0</text>
<text x="82.01" y="400.90" text-anchor="middle" class="t" font-size="12.2" fill="#1a1a1a">10</text>
<text x="103.62" y="400.90" text-anchor="middle" class="t" font-size="12.2" fill="#1a1a1a">20</text>
<text x="125.23" y="400.90" text-anchor="middle" class="t" font-size="12.2" fill="#1a1a1a">30</text>
<text x="146.84" y="400.90" text-anchor="middle" class="t" font-size="12.2" fill="#1a1a1a">40</text>
<text x="168.45" y="400.90" text-anchor="middle" class="t" font-size="12.2" fill="#1a1a1a">50</text>
<text x="190.06" y="400.90" text-anchor="middle" class="t" font-size="12.2" fill="#1a1a1a">60</text>
<text x="211.67" y="400.90" text-anchor="middle" class="t" font-size="12.2" fill="#1a1a1a">70</text>
<text x="233.28" y="400.90" text-anchor="middle" class="t" font-size="12.2" fill="#1a1a1a">80</text>
<text x="148.05" y="379.00" text-anchor="middle" font-size="12.6" letter-spacing="0.12" fill="#1a1a1a">Time (min)</text>
<text x="50.55" y="439.00" text-anchor="end" class="t" font-size="12.2" fill="#1a1a1a">0.00</text>
<text x="50.55" y="477.70" text-anchor="end" class="t" font-size="12.2" fill="#1a1a1a">-0.10</text>
<text x="50.55" y="516.40" text-anchor="end" class="t" font-size="12.2" fill="#1a1a1a">-0.20</text>
<text x="50.55" y="551.30" text-anchor="end" class="t" font-size="12.2" fill="#1a1a1a">0.0</text>
<text x="50.55" y="582.30" text-anchor="end" class="t" font-size="12.2" fill="#1a1a1a">-5.0</text>
<text x="50.55" y="613.30" text-anchor="end" class="t" font-size="12.2" fill="#1a1a1a">-10.0</text>
<text x="50.55" y="644.30" text-anchor="end" class="t" font-size="12.2" fill="#1a1a1a">-15.0</text>
<text x="68.00" y="687.10" text-anchor="middle" class="t" font-size="12.2" fill="#1a1a1a">0.0</text>
<text x="129.40" y="687.10" text-anchor="middle" class="t" font-size="12.2" fill="#1a1a1a">0.5</text>
<text x="190.80" y="687.10" text-anchor="middle" class="t" font-size="12.2" fill="#1a1a1a">1.0</text>
<path d="M60.40 407.30L60.40 411.30 M71.20 407.30L71.20 409.50 M82.01 407.30L82.01 411.30 M92.81 407.30L92.81 409.50 M103.62 407.30L103.62 411.30 M114.42 407.30L114.42 409.50 M125.23 407.30L125.23 411.30 M136.03 407.30L136.03 409.50 M146.84 407.30L146.84 411.30 M157.65 407.30L157.65 409.50 M168.45 407.30L168.45 411.30 M179.25 407.30L179.25 409.50 M190.06 407.30L190.06 411.30 M200.87 407.30L200.87 409.50 M211.67 407.30L211.67 411.30 M222.47 407.30L222.47 409.50 M233.28 407.30L233.28 411.30 M54.80 415.85L57.00 415.85 M236.90 415.85L239.10 415.85 M53.00 435.20L57.00 435.20 M235.10 435.20L239.10 435.20 M54.80 454.55L57.00 454.55 M236.90 454.55L239.10 454.55 M53.00 473.90L57.00 473.90 M235.10 473.90L239.10 473.90 M54.80 493.25L57.00 493.25 M236.90 493.25L239.10 493.25 M53.00 512.60L57.00 512.60 M235.10 512.60L239.10 512.60 M54.80 531.95L57.00 531.95 M236.90 531.95L239.10 531.95 M53.00 547.50L57.00 547.50 M235.10 547.50L239.10 547.50 M54.80 563.00L57.00 563.00 M236.90 563.00L239.10 563.00 M53.00 578.50L57.00 578.50 M235.10 578.50L239.10 578.50 M54.80 594.00L57.00 594.00 M236.90 594.00L239.10 594.00 M53.00 609.50L57.00 609.50 M235.10 609.50L239.10 609.50 M54.80 625.00L57.00 625.00 M236.90 625.00L239.10 625.00 M53.00 640.50L57.00 640.50 M235.10 640.50L239.10 640.50 M54.80 656.00L57.00 656.00 M236.90 656.00L239.10 656.00 M68.00 669.80L68.00 673.80 M68.00 538.60L68.00 542.60 M98.70 669.80L98.70 672.00 M98.70 538.60L98.70 540.80 M129.40 669.80L129.40 673.80 M129.40 538.60L129.40 542.60 M160.10 669.80L160.10 672.00 M160.10 538.60L160.10 540.80 M190.80 669.80L190.80 673.80 M190.80 538.60L190.80 542.60 M221.50 669.80L221.50 672.00 M221.50 538.60L221.50 540.80" stroke="#3a3a3a" stroke-width="1.0" fill="none"/>
<text x="102.50" y="708.60" font-size="14.5" fill="#1a1a1a">c<tspan font-size="9.5" dx="0.6" dy="6.6">HO16</tspan><tspan dy="-6.6">/c</tspan><tspan font-size="9.5" dx="0.6" dy="6.6">PF4</tspan></text>
<text transform="translate(13.70,481.20) rotate(-90)" x="0" y="0" text-anchor="middle" font-size="12.9" fill="#1a1a1a">µcal/sec</text>
<text transform="translate(12.80,613.90) rotate(-90)" x="0" y="0" text-anchor="middle" font-size="12.9" fill="#1a1a1a">kcal mol<tspan font-size="7.10" dx="1.0" dy="-8">-1</tspan><tspan dy="8"> of injectant</tspan></text>
<path d="M59.50 432.64 L59.83 433.48 L60.16 434.53 L60.49 431.84 L60.82 432.21 L61.15 435.02 L61.48 435.62 L61.81 433.48 L62.14 436.68 L62.47 434.69 L62.80 432.48 L63.13 435.41 L63.46 440.51 L63.79 433.44 L64.12 438.52 L64.45 439.10 L64.78 439.43 L65.11 433.03 L65.44 440.85 L65.77 435.62 L66.10 434.60 L66.43 434.67 L66.76 436.95 L67.09 431.23 L67.42 439.96 L67.75 438.81 L68.08 433.32 L68.41 432.45 L68.74 437.46 L69.07 437.22 L69.40 438.28 L69.73 432.38 L70.06 442.47 L70.39 436.61 L70.72 440.09 L71.05 431.91 L71.38 435.89 L71.71 434.55 L72.04 431.00 L72.37 433.37 L72.70 438.34 L73.03 434.03 L73.36 433.35 L73.69 437.64 L74.02 437.96 L74.35 434.70 L74.68 433.18 L75.01 435.14 L75.34 438.07 L75.67 433.54 L76.00 433.29 L76.33 437.52 L76.66 439.48 L76.99 432.22 L77.32 428.37 L77.65 431.43 L77.98 432.60 L78.31 434.93 L78.64 436.94 L78.97 429.54 L79.30 433.44 L79.63 435.71 L79.96 432.75 L80.29 435.18 L80.62 433.60 L80.95 442.39 L81.28 437.46 L81.61 433.10 L81.94 432.67 L82.27 434.15 L82.60 430.97 L82.93 433.38 L83.26 433.36 L83.59 437.62 L83.92 434.18 L84.25 433.23 L84.58 431.79 L84.91 432.22 L85.24 435.13 L85.57 434.74 L85.90 438.26 L86.23 437.85 L86.56 437.90 L86.89 435.91 L87.22 435.29 L87.55 430.89 L87.88 429.47 L88.21 436.80 L88.54 438.00 L88.87 435.68 L89.20 436.64 L89.53 434.62 L89.86 434.71 L90.19 434.31 L90.52 436.66 L90.85 435.75 L91.18 435.01 L91.51 434.93 L91.84 435.88 L92.17 435.62 L92.50 433.10 L92.83 434.83 L93.16 435.56 L93.49 435.31 L93.82 436.78 L94.15 436.33 L94.48 435.21 L94.81 435.84 L95.14 434.23 L95.47 434.66 L95.80 433.03 L96.13 436.52 L96.46 433.39 L96.79 435.98 L97.12 434.47 L97.45 434.32 L97.78 435.10 L98.11 435.57 L98.44 435.91 L98.77 437.08 L99.10 435.66 L99.43 436.18 L99.76 434.70 L100.09 436.02 L100.42 435.45 L100.75 434.84 L101.08 435.20 L101.41 435.24 L101.74 435.49 L102.07 435.70 L102.40 434.79 L102.73 434.56 L103.06 438.11 L103.39 433.60 L103.72 434.68 L104.05 436.86 L104.38 432.58 L104.71 434.60 L105.04 435.99 L105.37 433.64 L105.70 437.91 L106.03 432.70 L106.36 436.74 L106.69 436.86 L107.02 436.22 L107.35 435.08 L107.68 435.66 L108.01 434.40 L108.34 436.11 L108.67 434.18 L109.00 435.03 L109.33 436.30 L109.66 434.18 L109.99 434.93 L110.32 435.46 L110.65 433.95 L110.98 436.47 L111.31 435.64 L111.64 433.78 L111.97 435.25 L112.30 434.52 L112.63 434.64 L112.96 435.38 L113.29 434.59 L113.62 436.27 L113.95 433.07 L114.28 436.29 L114.61 435.26 L114.94 436.16 L115.27 433.33 L115.60 434.79 L115.93 434.14 L116.26 435.88 L116.59 438.02 L116.92 437.43 L117.25 436.60 L117.58 435.55 L117.91 435.09 L118.24 435.69 L118.57 435.27 L118.90 436.77 L119.23 436.25 L119.56 434.46 L119.89 434.61 L120.22 436.67 L120.55 435.61 L120.88 435.07 L121.21 436.49 L121.54 434.91 L121.87 435.02 L122.20 434.84 L122.53 433.33 L122.86 436.17 L123.19 434.09 L123.52 434.73 L123.85 434.55 L124.18 436.03 L124.51 435.23 L124.84 435.32 L125.17 433.61 L125.50 435.21 L125.83 433.82 L126.16 435.61 L126.49 435.67 L126.82 435.28 L127.15 437.35 L127.48 435.83 L127.81 435.90 L128.14 435.44 L128.47 435.11 L128.80 436.27 L129.13 436.41 L129.46 433.99 L129.79 436.36 L130.12 435.82 L130.45 436.32 L130.78 435.82 L131.11 433.87 L131.44 433.90 L131.77 437.55 L132.10 435.62 L132.43 433.43 L132.76 435.77 L133.09 434.79 L133.42 432.63 L133.75 431.88 L134.08 432.84 L134.41 435.73 L134.74 435.22 L135.07 434.89 L135.40 435.79 L135.73 436.35 L136.06 431.53 L136.39 434.75 L136.72 433.74 L137.05 432.93 L137.38 434.22 L137.71 435.05 L138.04 434.75 L138.37 432.25 L138.70 434.27 L139.03 439.70 L139.36 432.95 L139.69 431.47 L140.02 435.94 L140.35 436.68 L140.68 436.37 L141.01 432.71 L141.34 437.61 L141.67 433.49 L142.00 432.68 L142.33 433.89 L142.66 435.05 L142.99 436.95 L143.32 436.74 L143.65 435.25 L143.98 437.46 L144.31 435.49 L144.64 437.37 L144.97 432.05 L145.30 431.65 L145.63 437.10 L145.96 432.08 L146.29 434.60 L146.62 435.07 L146.95 434.17 L147.28 434.25 L147.61 438.53 L147.94 429.43 L148.27 437.35 L148.60 440.63 L148.93 435.35 L149.26 435.26 L149.59 436.99 L149.92 439.55 L150.25 432.54 L150.58 435.50 L150.91 434.87 L151.24 436.60 L151.57 435.67 L151.90 436.83 L152.23 434.32 L152.56 435.41 L152.89 433.74 L153.22 433.75 L153.55 434.97 L153.88 434.97 L154.21 432.57 L154.54 438.96 L154.87 434.99 L155.20 432.07 L155.53 437.87 L155.86 433.55 L156.19 436.49 L156.52 435.26 L156.85 435.88 L157.18 432.79 L157.51 433.96 L157.84 435.40 L158.17 440.05 L158.50 430.07 L158.83 435.45 L159.16 436.32 L159.49 432.84 L159.82 432.10 L160.15 440.35 L160.48 434.43 L160.81 440.17 L161.14 436.55 L161.47 435.48 L161.80 436.41 L162.13 436.79 L162.46 438.06 L162.79 436.32 L163.12 435.64 L163.45 435.71 L163.78 438.47 L164.11 437.22 L164.44 432.95 L164.77 433.81 L165.10 436.08 L165.43 433.84 L165.76 434.42 L166.09 433.06 L166.42 434.69 L166.75 436.30 L167.08 437.64 L167.41 435.32 L167.74 440.18 L168.07 435.06 L168.40 442.46 L168.73 437.02 L169.06 435.54 L169.39 432.91 L169.72 427.15 L170.05 433.14 L170.38 433.64 L170.71 437.46 L171.04 429.39 L171.37 436.84 L171.70 431.47 L172.03 433.51 L172.36 425.79 L172.69 432.09 L173.02 430.94 L173.35 433.34 L173.68 431.93 L174.01 429.00 L174.34 433.92 L174.67 433.31 L175.00 433.06 L175.33 434.02 L175.66 434.22 L175.99 431.55 L176.32 428.37 L176.65 428.29 L176.98 434.74 L177.31 433.22 L177.64 431.76 L177.97 430.47 L178.30 431.56 L178.63 426.72 L178.96 430.65 L179.29 429.78 L179.62 436.55 L179.95 428.32 L180.28 434.98 L180.61 428.28 L180.94 429.63 L181.27 433.04 L181.60 433.12 L181.93 430.79 L182.26 431.68 L182.59 431.17 L182.92 429.59 L183.25 435.64 L183.58 433.77 L183.91 439.09 L184.24 431.74 L184.57 433.54 L184.90 436.30 L185.23 433.95 L185.56 431.56 L185.89 432.93 L186.22 435.54 L186.55 436.12 L186.88 435.07 L187.21 437.69 L187.54 437.66 L187.87 436.07 L188.20 435.36 L188.53 434.70 L188.86 436.61 L189.19 437.49 L189.52 435.44 L189.85 440.53 L190.18 434.53 L190.51 431.93 L190.84 432.91 L191.17 437.13 L191.50 436.37 L191.83 439.10 L192.16 435.43 L192.49 437.37 L192.82 438.46 L193.15 437.68 L193.48 433.85 L193.81 434.86 L194.14 435.61 L194.47 432.94 L194.80 436.43 L195.13 437.75 L195.46 434.15 L195.79 440.02 L196.12 434.60 L196.45 434.81 L196.78 434.73 L197.11 433.60 L197.44 436.30 L197.77 435.35 L198.10 439.28 L198.43 436.76 L198.76 436.59 L199.09 434.77 L199.42 431.91 L199.75 439.24 L200.08 429.56 L200.41 437.59 L200.74 435.23 L201.07 439.30 L201.40 437.07 L201.73 437.31 L202.06 435.85 L202.39 435.80 L202.72 436.87 L203.05 437.52 L203.38 433.59 L203.71 436.48 L204.04 441.61 L204.37 435.08 L204.70 434.68 L205.03 433.64 L205.36 431.93 L205.69 437.98 L206.02 435.43 L206.35 435.93 L206.68 439.03 L207.01 440.19 L207.34 433.64 L207.67 437.19 L208.00 436.37 L208.33 435.96 L208.66 436.05 L208.99 435.27 L209.32 437.56 L209.65 436.13 L209.98 435.74 L210.31 436.79 L210.64 436.30 L210.97 435.78 L211.30 435.62 L211.63 436.86 L211.96 435.72 L212.29 435.23 L212.62 434.61 L212.95 435.02 L213.28 434.45 L213.61 435.39 L213.94 435.51 L214.27 433.62 L214.60 435.32 L214.93 435.84 L215.26 435.44 L215.59 434.51 L215.92 436.36 L216.25 434.72 L216.58 434.27 L216.91 434.40 L217.24 435.29 L217.57 436.13 L217.90 436.29 L218.23 435.48 L218.56 434.29 L218.89 434.74 L219.22 434.53 L219.55 435.15 L219.88 433.77 L220.21 435.40 L220.54 435.86 L220.87 436.70 L221.20 435.70 L221.53 432.86 L221.86 434.03 L222.19 434.74 L222.52 436.32 L222.85 436.21 L223.18 434.90 L223.51 436.37 L223.84 435.01 L224.17 436.65 L224.50 435.73 L224.83 434.89 L225.16 436.02 L225.49 434.60 L225.82 434.45 L226.15 433.98 L226.48 435.54 L226.81 435.25 L227.14 435.23 L227.47 434.92 L227.80 436.62 L228.13 433.10 L228.46 434.63 L228.79 435.08 L229.12 436.62 L229.45 435.62 L229.78 433.67 L230.11 434.74 L230.44 435.88 L230.77 435.32 L231.10 436.77 L231.43 434.01 L231.76 435.94 L232.09 434.70 L232.42 436.56 L232.75 435.23 L233.08 436.29 L233.41 435.90 L233.74 433.94 L234.07 434.23 L234.40 434.71 L234.73 434.30 L235.06 436.47 L235.39 436.61 L235.72 435.57 L236.05 434.28 L236.38 435.18 L236.71 434.62 L237.04 436.74" stroke="#262626" stroke-width="1.0" fill="none" stroke-linejoin="round"/>
<path d="M62.60 435.30L62.70 455.00L63.05 437.27C63.30 435.89 63.15 435.70 63.60 435.30 M71.50 435.30L71.60 520.80L71.95 443.85C72.20 437.87 72.05 435.70 72.50 435.30 M80.10 435.30L80.20 532.30L80.55 445.00C80.80 438.21 80.65 435.70 81.10 435.30 M88.60 435.30L88.70 529.60L89.05 444.73C89.30 438.13 89.15 435.70 89.60 435.30 M97.50 435.30L97.60 511.60L97.95 442.93C98.20 437.59 98.05 435.70 98.50 435.30 M106.30 435.30L106.40 472.60L106.75 439.03C107.00 436.42 106.85 435.70 107.30 435.30 M114.80 435.30L114.90 460.30L115.25 437.80C115.50 436.05 115.35 435.70 115.80 435.30 M123.50 435.30L123.60 455.00L123.95 437.27C124.20 435.89 124.05 435.70 124.50 435.30 M132.00 435.30L132.10 448.60L132.45 436.63C132.70 435.70 132.55 435.70 133.00 435.30 M140.50 435.30L140.60 447.30L140.95 436.50C141.20 435.66 141.05 435.70 141.50 435.30 M149.20 435.30L149.30 447.40L149.65 436.51C149.90 435.66 149.75 435.70 150.20 435.30 M157.70 435.30L157.80 427.50L158.00 443.00L158.70 435.30 M166.70 435.30L166.80 425.30L167.00 443.80L167.70 435.30 M174.80 435.30L174.90 424.80L175.10 445.20L175.80 435.30 M184.20 435.30L184.30 421.70L184.50 444.00L185.20 435.30 M192.60 435.30L192.70 422.00L192.90 450.10L193.60 435.30 M201.10 435.30L201.20 424.80L201.40 444.00L202.10 435.30 M210.10 435.30L210.20 419.90L210.40 440.00L211.10 435.30 M218.80 435.30L218.90 419.90L219.10 440.00L219.80 435.30 M227.60 435.30L227.70 416.30L227.90 440.00L228.60 435.30 M233.60 435.30L233.70 428.40L233.90 440.00L234.60 435.30" stroke="#000" stroke-opacity="0.42" stroke-width="1.15" fill="none" stroke-linejoin="round"/>
<path d="M62.85 435.30L62.85 444.17 M71.75 435.30L71.75 494.72 M80.35 435.30L80.35 492.53 M88.85 435.30L88.85 481.04 M97.75 435.30L97.75 491.00 M106.55 435.30L106.55 458.61 M115.05 435.30L115.05 448.30 M123.75 435.30L123.75 450.37 M132.25 435.30L132.25 444.08 M140.75 435.30L140.75 441.96 M149.45 435.30L149.45 440.75 M157.95 435.30L157.95 430.62 M166.95 435.30L166.95 429.30 M175.05 435.30L175.05 429.00 M184.45 435.30L184.45 427.14 M192.85 435.30L192.85 427.32 M201.35 435.30L201.35 429.00 M210.35 435.30L210.35 426.06 M219.05 435.30L219.05 426.06 M227.85 435.30L227.85 423.90 M233.85 435.30L233.85 431.16" stroke="#000" stroke-opacity="0.24" stroke-width="1.15" fill="none"/>
<path d="M70.20 657.50 L71.18 657.33 L72.15 657.16 L73.13 656.97 L74.11 656.77 L75.09 656.56 L76.06 656.33 L77.04 656.09 L78.02 655.84 L79.00 655.56 L79.97 655.27 L80.95 654.96 L81.93 654.62 L82.91 654.27 L83.88 653.89 L84.86 653.48 L85.84 653.05 L86.82 652.60 L87.79 652.11 L88.77 651.60 L89.75 651.05 L90.72 650.47 L91.70 649.86 L92.68 649.22 L93.66 648.54 L94.63 647.82 L95.61 647.07 L96.59 646.27 L97.57 645.44 L98.54 644.56 L99.52 643.65 L100.50 642.69 L101.48 641.68 L102.45 640.63 L103.43 639.53 L104.41 638.38 L105.38 637.18 L106.36 635.93 L107.34 634.63 L108.32 633.27 L109.29 631.86 L110.27 630.40 L111.25 628.88 L112.23 627.31 L113.20 625.70 L114.18 624.05 L115.16 622.36 L116.14 620.63 L117.11 618.88 L118.09 617.11 L119.07 615.31 L120.05 613.50 L121.02 611.68 L122.00 609.85 L122.98 608.02 L123.95 606.19 L124.93 604.37 L125.91 602.56 L126.89 600.76 L127.86 598.98 L128.84 597.23 L129.82 595.50 L130.80 593.80 L131.77 592.14 L132.75 590.52 L133.73 588.93 L134.71 587.38 L135.68 585.87 L136.66 584.39 L137.64 582.95 L138.62 581.55 L139.59 580.19 L140.57 578.87 L141.55 577.59 L142.52 576.34 L143.50 575.14 L144.48 573.98 L145.46 572.86 L146.43 571.78 L147.41 570.74 L148.39 569.74 L149.37 568.78 L150.34 567.87 L151.32 567.00 L152.30 566.17 L153.28 565.38 L154.25 564.62 L155.23 563.90 L156.21 563.22 L157.18 562.57 L158.16 561.96 L159.14 561.38 L160.12 560.83 L161.09 560.31 L162.07 559.82 L163.05 559.35 L164.03 558.92 L165.00 558.51 L165.98 558.12 L166.96 557.76 L167.94 557.42 L168.91 557.10 L169.89 556.81 L170.87 556.53 L171.85 556.27 L172.82 556.03 L173.80 555.80 L174.78 555.59 L175.75 555.39 L176.73 555.20 L177.71 555.03 L178.69 554.86 L179.66 554.71 L180.64 554.56 L181.62 554.42 L182.60 554.29 L183.57 554.16 L184.55 554.04 L185.53 553.92 L186.51 553.80 L187.48 553.68 L188.46 553.56 L189.44 553.44 L190.42 553.31 L191.39 553.19 L192.37 553.06 L193.35 552.94 L194.32 552.81 L195.30 552.68 L196.28 552.56 L197.26 552.43 L198.23 552.31 L199.21 552.19 L200.19 552.06 L201.17 551.95 L202.14 551.83 L203.12 551.72 L204.10 551.60 L205.08 551.50 L206.05 551.39 L207.03 551.30 L208.01 551.20 L208.98 551.11 L209.96 551.03 L210.94 550.95 L211.92 550.88 L212.89 550.81 L213.87 550.75 L214.85 550.70 L215.83 550.65 L216.80 550.61 L217.78 550.58 L218.76 550.56 L219.74 550.55 L220.71 550.54 L221.69 550.55 L222.67 550.56 L223.65 550.59 L224.62 550.62 L225.60 550.67" stroke="#999" stroke-width="1.3" fill="none"/>
<g fill="#000"><rect x="74.95" y="627.55" width="4.5" height="4.5"/><rect x="82.45" y="655.45" width="4.5" height="4.5"/><rect x="90.35" y="657.95" width="4.5" height="4.5"/><rect x="98.15" y="658.45" width="4.5" height="4.5"/><rect x="105.95" y="632.85" width="4.5" height="4.5"/><rect x="114.05" y="604.85" width="4.5" height="4.5"/><rect x="122.05" y="596.55" width="4.5" height="4.5"/><rect x="130.05" y="580.85" width="4.5" height="4.5"/><rect x="138.35" y="581.55" width="4.5" height="4.5"/><rect x="146.05" y="566.35" width="4.5" height="4.5"/><rect x="154.95" y="559.05" width="4.5" height="4.5"/><rect x="163.25" y="566.85" width="4.5" height="4.5"/><rect x="171.75" y="551.25" width="4.5" height="4.5"/><rect x="180.45" y="562.65" width="4.5" height="4.5"/><rect x="188.95" y="566.25" width="4.5" height="4.5"/><rect x="197.65" y="553.65" width="4.5" height="4.5"/><rect x="206.45" y="546.05" width="4.5" height="4.5"/><rect x="215.55" y="554.05" width="4.5" height="4.5"/><rect x="224.55" y="545.55" width="4.5" height="4.5"/></g>
<text transform="translate(281.30,391.50) scale(0.95,1)" font-size="25.6" font-weight="bold" fill="#000" class="L">D</text>
<rect x="330.60" y="407.30" width="182.10" height="262.50" fill="none" stroke="#484848" stroke-width="1.25"/>
<line x1="330.60" y1="538.40" x2="512.70" y2="538.40" stroke="#484848" stroke-width="1.25"/>
<text x="334.10" y="400.90" text-anchor="middle" class="t" font-size="12.2" fill="#1a1a1a">0</text>
<text x="356.86" y="400.90" text-anchor="middle" class="t" font-size="12.2" fill="#1a1a1a">10</text>
<text x="379.62" y="400.90" text-anchor="middle" class="t" font-size="12.2" fill="#1a1a1a">20</text>
<text x="402.38" y="400.90" text-anchor="middle" class="t" font-size="12.2" fill="#1a1a1a">30</text>
<text x="425.14" y="400.90" text-anchor="middle" class="t" font-size="12.2" fill="#1a1a1a">40</text>
<text x="447.90" y="400.90" text-anchor="middle" class="t" font-size="12.2" fill="#1a1a1a">50</text>
<text x="470.66" y="400.90" text-anchor="middle" class="t" font-size="12.2" fill="#1a1a1a">60</text>
<text x="493.42" y="400.90" text-anchor="middle" class="t" font-size="12.2" fill="#1a1a1a">70</text>
<text x="421.65" y="379.00" text-anchor="middle" font-size="12.6" letter-spacing="0.12" fill="#1a1a1a">Time (min)</text>
<text x="324.15" y="438.80" text-anchor="end" class="t" font-size="12.2" fill="#1a1a1a">0.00</text>
<text x="324.15" y="478.95" text-anchor="end" class="t" font-size="12.2" fill="#1a1a1a">-0.05</text>
<text x="324.15" y="519.10" text-anchor="end" class="t" font-size="12.2" fill="#1a1a1a">-0.10</text>
<text x="324.15" y="556.20" text-anchor="end" class="t" font-size="12.2" fill="#1a1a1a">0.0</text>
<text x="324.15" y="580.97" text-anchor="end" class="t" font-size="12.2" fill="#1a1a1a">-0.5</text>
<text x="324.15" y="605.75" text-anchor="end" class="t" font-size="12.2" fill="#1a1a1a">-1.0</text>
<text x="324.15" y="630.52" text-anchor="end" class="t" font-size="12.2" fill="#1a1a1a">-1.5</text>
<text x="324.15" y="655.30" text-anchor="end" class="t" font-size="12.2" fill="#1a1a1a">-2.0</text>
<text x="341.40" y="687.10" text-anchor="middle" class="t" font-size="12.2" fill="#1a1a1a">0</text>
<text x="388.30" y="687.10" text-anchor="middle" class="t" font-size="12.2" fill="#1a1a1a">1</text>
<text x="435.20" y="687.10" text-anchor="middle" class="t" font-size="12.2" fill="#1a1a1a">2</text>
<text x="482.10" y="687.10" text-anchor="middle" class="t" font-size="12.2" fill="#1a1a1a">3</text>
<path d="M334.10 407.30L334.10 411.30 M345.48 407.30L345.48 409.50 M356.86 407.30L356.86 411.30 M368.24 407.30L368.24 409.50 M379.62 407.30L379.62 411.30 M391.00 407.30L391.00 409.50 M402.38 407.30L402.38 411.30 M413.76 407.30L413.76 409.50 M425.14 407.30L425.14 411.30 M436.52 407.30L436.52 409.50 M447.90 407.30L447.90 411.30 M459.28 407.30L459.28 409.50 M470.66 407.30L470.66 411.30 M482.04 407.30L482.04 409.50 M493.42 407.30L493.42 411.30 M504.80 407.30L504.80 409.50 M328.40 414.93L330.60 414.93 M510.50 414.93L512.70 414.93 M326.60 435.00L330.60 435.00 M508.70 435.00L512.70 435.00 M328.40 455.07L330.60 455.07 M510.50 455.07L512.70 455.07 M326.60 475.15L330.60 475.15 M508.70 475.15L512.70 475.15 M328.40 495.23L330.60 495.23 M510.50 495.23L512.70 495.23 M326.60 515.30L330.60 515.30 M508.70 515.30L512.70 515.30 M328.40 535.38L330.60 535.38 M510.50 535.38L512.70 535.38 M328.40 540.01L330.60 540.01 M510.50 540.01L512.70 540.01 M326.60 552.40L330.60 552.40 M508.70 552.40L512.70 552.40 M328.40 564.79L330.60 564.79 M510.50 564.79L512.70 564.79 M326.60 577.17L330.60 577.17 M508.70 577.17L512.70 577.17 M328.40 589.56L330.60 589.56 M510.50 589.56L512.70 589.56 M326.60 601.95L330.60 601.95 M508.70 601.95L512.70 601.95 M328.40 614.34L330.60 614.34 M510.50 614.34L512.70 614.34 M326.60 626.72L330.60 626.72 M508.70 626.72L512.70 626.72 M328.40 639.11L330.60 639.11 M510.50 639.11L512.70 639.11 M326.60 651.50L330.60 651.50 M508.70 651.50L512.70 651.50 M328.40 663.89L330.60 663.89 M510.50 663.89L512.70 663.89 M341.40 669.80L341.40 673.80 M341.40 538.40L341.40 542.40 M364.85 669.80L364.85 672.00 M364.85 538.40L364.85 540.60 M388.30 669.80L388.30 673.80 M388.30 538.40L388.30 542.40 M411.75 669.80L411.75 672.00 M411.75 538.40L411.75 540.60 M435.20 669.80L435.20 673.80 M435.20 538.40L435.20 542.40 M458.65 669.80L458.65 672.00 M458.65 538.40L458.65 540.60 M482.10 669.80L482.10 673.80 M482.10 538.40L482.10 542.40 M505.55 669.80L505.55 672.00 M505.55 538.40L505.55 540.60" stroke="#3a3a3a" stroke-width="1.0" fill="none"/>
<text x="384.20" y="711.00" font-size="14.5" fill="#1a1a1a">c<tspan font-size="9.5" dx="0.6" dy="6.6">HO08</tspan><tspan dy="-6.6">/c</tspan><tspan font-size="9.5" dx="0.6" dy="6.6">PF4</tspan></text>
<text transform="translate(286.90,481.00) rotate(-90)" x="0" y="0" text-anchor="middle" font-size="12.9" fill="#1a1a1a">µcal/sec</text>
<text transform="translate(293.80,614.00) rotate(-90)" x="0" y="0" text-anchor="middle" font-size="12.9" fill="#1a1a1a">kcal mol<tspan font-size="7.10" dx="1.0" dy="-8">-1</tspan><tspan dy="8"> of injectant</tspan></text>
<path d="M333.10 434.91 L333.60 435.19 L334.10 435.43 L334.60 435.03 L335.10 434.88 L335.60 434.77 L336.10 435.05 L336.60 435.64 L337.10 435.35 L337.60 435.74 L338.10 435.10 L338.60 434.23 L339.10 436.52 L339.60 435.49 L340.10 434.12 L340.60 434.87 L341.10 435.77 L341.60 434.69 L342.10 434.79 L342.60 434.86 L343.10 433.97 L343.60 434.34 L344.10 434.70 L344.60 434.30 L345.10 434.35 L345.60 434.39 L346.10 435.86 L346.60 434.98 L347.10 435.26 L347.60 435.08 L348.10 434.21 L348.60 433.85 L349.10 434.30 L349.60 435.50 L350.10 435.96 L350.60 435.05 L351.10 435.09 L351.60 434.87 L352.10 434.90 L352.60 435.23 L353.10 436.33 L353.60 435.55 L354.10 435.11 L354.60 434.98 L355.10 434.65 L355.60 434.48 L356.10 436.23 L356.60 437.16 L357.10 437.00 L357.60 435.30 L358.10 434.57 L358.60 434.98 L359.10 435.79 L359.60 433.91 L360.10 434.77 L360.60 434.60 L361.10 435.10 L361.60 436.09 L362.10 435.19 L362.60 434.48 L363.10 434.16 L363.60 433.79 L364.10 434.55 L364.60 435.42 L365.10 435.38 L365.60 435.23 L366.10 434.83 L366.60 434.87 L367.10 434.48 L367.60 434.33 L368.10 435.60 L368.60 435.10 L369.10 435.33 L369.60 434.62 L370.10 435.41 L370.60 437.71 L371.10 435.09 L371.60 434.13 L372.10 433.82 L372.60 435.59 L373.10 435.13 L373.60 434.88 L374.10 435.11 L374.60 434.59 L375.10 436.18 L375.60 435.09 L376.10 434.76 L376.60 435.28 L377.10 435.72 L377.60 434.78 L378.10 434.58 L378.60 434.47 L379.10 434.04 L379.60 434.06 L380.10 433.81 L380.60 434.08 L381.10 435.08 L381.60 434.76 L382.10 435.54 L382.60 435.21 L383.10 434.36 L383.60 434.82 L384.10 434.42 L384.60 433.21 L385.10 434.43 L385.60 436.82 L386.10 435.68 L386.60 435.30 L387.10 434.31 L387.60 434.18 L388.10 434.99 L388.60 434.87 L389.10 434.31 L389.60 434.03 L390.10 433.82 L390.60 434.81 L391.10 435.57 L391.60 434.62 L392.10 433.85 L392.60 434.12 L393.10 434.95 L393.60 434.62 L394.10 434.23 L394.60 433.67 L395.10 433.02 L395.60 434.46 L396.10 435.73 L396.60 434.79 L397.10 435.66 L397.60 434.96 L398.10 435.20 L398.60 434.34 L399.10 434.93 L399.60 435.42 L400.10 435.83 L400.60 436.22 L401.10 435.09 L401.60 434.49 L402.10 434.83 L402.60 434.06 L403.10 433.52 L403.60 436.69 L404.10 434.59 L404.60 434.61 L405.10 435.68 L405.60 435.03 L406.10 435.17 L406.60 436.70 L407.10 435.83 L407.60 435.37 L408.10 434.64 L408.60 433.87 L409.10 434.54 L409.60 436.28 L410.10 434.97 L410.60 434.41 L411.10 434.52 L411.60 434.68 L412.10 435.06 L412.60 436.00 L413.10 435.16 L413.60 434.64 L414.10 435.57 L414.60 434.86 L415.10 434.61 L415.60 434.70 L416.10 434.78 L416.60 435.41 L417.10 434.75 L417.60 434.88 L418.10 435.36 L418.60 435.44 L419.10 435.77 L419.60 435.66 L420.10 435.72 L420.60 435.66 L421.10 435.45 L421.60 434.64 L422.10 434.90 L422.60 435.55 L423.10 436.16 L423.60 435.01 L424.10 434.03 L424.60 435.34 L425.10 434.89 L425.60 434.34 L426.10 435.78 L426.60 436.48 L427.10 435.20 L427.60 435.21 L428.10 436.09 L428.60 436.99 L429.10 435.47 L429.60 435.24 L430.10 434.70 L430.60 434.37 L431.10 435.07 L431.60 435.35 L432.10 435.84 L432.60 435.63 L433.10 433.78 L433.60 433.78 L434.10 434.95 L434.60 435.26 L435.10 435.17 L435.60 434.64 L436.10 435.27 L436.60 435.34 L437.10 435.00 L437.60 435.16 L438.10 434.32 L438.60 435.07 L439.10 434.49 L439.60 433.48 L440.10 434.79 L440.60 435.01 L441.10 435.15 L441.60 435.27 L442.10 434.73 L442.60 435.74 L443.10 435.85 L443.60 434.81 L444.10 434.42 L444.60 434.15 L445.10 434.93 L445.60 435.53 L446.10 435.24 L446.60 434.66 L447.10 434.97 L447.60 434.52 L448.10 434.05 L448.60 434.71 L449.10 434.48 L449.60 434.67 L450.10 434.75 L450.60 434.31 L451.10 435.44 L451.60 436.15 L452.10 435.88 L452.60 435.56 L453.10 435.45 L453.60 435.79 L454.10 435.91 L454.60 436.65 L455.10 435.98 L455.60 435.00 L456.10 435.09 L456.60 433.33 L457.10 432.70 L457.60 434.35 L458.10 435.30 L458.60 435.02 L459.10 435.25 L459.60 436.13 L460.10 435.40 L460.60 435.47 L461.10 436.49 L461.60 436.04 L462.10 434.75 L462.60 435.23 L463.10 435.61 L463.60 434.74 L464.10 434.87 L464.60 434.80 L465.10 435.25 L465.60 435.92 L466.10 436.04 L466.60 435.97 L467.10 434.88 L467.60 434.45 L468.10 434.01 L468.60 435.29 L469.10 436.60 L469.60 436.76 L470.10 434.44 L470.60 435.39 L471.10 436.35 L471.60 435.53 L472.10 434.81 L472.60 435.14 L473.10 435.90 L473.60 436.11 L474.10 437.14 L474.60 435.09 L475.10 435.82 L475.60 436.01 L476.10 433.59 L476.60 432.64 L477.10 434.04 L477.60 434.44 L478.10 434.97 L478.60 435.58 L479.10 435.78 L479.60 435.24 L480.10 434.95 L480.60 435.85 L481.10 435.55 L481.60 434.85 L482.10 435.89 L482.60 435.91 L483.10 434.19 L483.60 434.20 L484.10 434.99 L484.60 434.76 L485.10 434.11 L485.60 435.72 L486.10 435.10 L486.60 435.30 L487.10 435.63 L487.60 435.26 L488.10 435.19 L488.60 435.26 L489.10 434.96 L489.60 434.62 L490.10 434.79 L490.60 434.56 L491.10 433.95 L491.60 435.02 L492.10 435.51 L492.60 434.87 L493.10 434.92 L493.60 434.95 L494.10 435.02 L494.60 435.04 L495.10 434.65 L495.60 434.14 L496.10 435.11 L496.60 435.16 L497.10 434.58 L497.60 433.58 L498.10 434.97 L498.60 435.40 L499.10 434.61 L499.60 434.86 L500.10 434.68 L500.60 434.54 L501.10 433.98 L501.60 433.73 L502.10 434.47 L502.60 434.95 L503.10 435.67 L503.60 435.01 L504.10 435.36 L504.60 435.48 L505.10 433.74 L505.60 432.89 L506.10 434.60 L506.60 435.69 L507.10 434.65 L507.60 434.33 L508.10 434.12 L508.60 435.12 L509.10 435.60 L509.60 435.81 L510.10 435.76 L510.60 433.78" stroke="#262626" stroke-width="1.0" fill="none" stroke-linejoin="round"/>
<path d="M336.60 435.00L336.70 440.30L337.05 435.53C337.30 435.16 337.15 435.40 337.60 435.00 M345.80 435.00L345.90 525.70L346.25 444.07C346.50 437.72 346.35 435.40 346.80 435.00 M354.70 435.00L354.80 529.30L355.15 444.43C355.40 437.83 355.25 435.40 355.70 435.00 M363.90 435.00L364.00 525.70L364.35 444.07C364.60 437.72 364.45 435.40 364.90 435.00 M372.90 435.00L373.00 525.20L373.35 444.02C373.60 437.71 373.45 435.40 373.90 435.00 M382.10 435.00L382.20 523.40L382.55 443.84C382.80 437.65 382.65 435.40 383.10 435.00 M391.30 435.00L391.40 521.10L391.75 443.61C392.00 437.58 391.85 435.40 392.30 435.00 M400.30 435.00L400.40 517.20L400.75 443.22C401.00 437.47 400.85 435.40 401.30 435.00 M409.30 435.00L409.40 511.00L409.75 442.60C410.00 437.28 409.85 435.40 410.30 435.00 M415.50 435.00L415.60 451.80L415.95 436.68C416.20 435.50 416.05 435.40 416.50 435.00 M418.40 435.00L418.50 504.00L418.85 441.90C419.10 437.07 418.95 435.40 419.40 435.00 M427.70 435.00L427.80 498.40L428.15 441.34C428.40 436.90 428.25 435.40 428.70 435.00 M436.70 435.00L436.80 486.30L437.15 440.13C437.40 436.54 437.25 435.40 437.70 435.00 M443.00 435.00L443.10 442.00L443.45 435.70C443.70 435.21 443.55 435.40 444.00 435.00 M445.80 435.00L445.90 477.20L446.25 439.22C446.50 436.27 446.35 435.40 446.80 435.00 M454.80 435.00L454.90 465.10L455.25 438.01C455.50 435.90 455.35 435.40 455.80 435.00 M463.80 435.00L463.90 457.90L464.25 437.29C464.50 435.69 464.35 435.40 464.80 435.00 M473.60 435.00L473.70 427.50L473.90 455.50L474.60 435.00 M482.60 435.00L482.70 422.10L482.90 452.80L483.60 435.00 M489.50 435.00L489.60 445.00L489.95 436.00C490.20 435.30 490.05 435.40 490.50 435.00 M491.70 435.00L491.80 418.10L492.00 451.90L492.70 435.00 M500.70 435.00L500.80 416.30L501.00 451.40L501.70 435.00" stroke="#000" stroke-opacity="0.42" stroke-width="1.15" fill="none" stroke-linejoin="round"/>
<path d="M336.85 435.00L336.85 437.38 M346.05 435.00L346.05 498.04 M354.95 435.00L354.95 490.64 M364.15 435.00L364.15 478.99 M373.15 435.00L373.15 500.85 M382.35 435.00L382.35 490.25 M391.55 435.00L391.55 479.77 M400.55 435.00L400.55 497.88 M409.55 435.00L409.55 485.16 M415.75 435.00L415.75 444.32 M418.65 435.00L418.65 466.05 M427.95 435.00L427.95 479.06 M436.95 435.00L436.95 465.27 M443.25 435.00L443.25 438.39 M446.05 435.00L446.05 465.81 M455.05 435.00L455.05 453.81 M464.05 435.00L464.05 446.91 M473.85 435.00L473.85 430.50 M482.85 435.00L482.85 427.26 M489.75 435.00L489.75 440.55 M491.95 435.00L491.95 424.86 M500.95 435.00L500.95 423.78" stroke="#000" stroke-opacity="0.24" stroke-width="1.15" fill="none"/>
<path d="M343.30 653.93 L344.28 653.93 L345.27 653.92 L346.25 653.92 L347.23 653.92 L348.22 653.92 L349.20 653.92 L350.18 653.91 L351.16 653.91 L352.15 653.91 L353.13 653.90 L354.11 653.90 L355.10 653.90 L356.08 653.89 L357.06 653.89 L358.05 653.88 L359.03 653.88 L360.01 653.87 L360.99 653.87 L361.98 653.86 L362.96 653.85 L363.94 653.85 L364.93 653.84 L365.91 653.83 L366.89 653.82 L367.88 653.81 L368.86 653.80 L369.84 653.79 L370.82 653.78 L371.81 653.77 L372.79 653.76 L373.77 653.74 L374.76 653.73 L375.74 653.71 L376.72 653.70 L377.71 653.68 L378.69 653.66 L379.67 653.64 L380.65 653.61 L381.64 653.59 L382.62 653.56 L383.60 653.54 L384.59 653.51 L385.57 653.47 L386.55 653.44 L387.54 653.40 L388.52 653.37 L389.50 653.32 L390.48 653.28 L391.47 653.23 L392.45 653.18 L393.43 653.12 L394.42 653.07 L395.40 653.00 L396.38 652.94 L397.37 652.86 L398.35 652.79 L399.33 652.70 L400.32 652.61 L401.30 652.52 L402.28 652.42 L403.26 652.31 L404.25 652.19 L405.23 652.07 L406.21 651.93 L407.20 651.79 L408.18 651.64 L409.16 651.47 L410.15 651.30 L411.13 651.11 L412.11 650.91 L413.09 650.69 L414.08 650.46 L415.06 650.22 L416.04 649.95 L417.03 649.67 L418.01 649.37 L418.99 649.05 L419.98 648.70 L420.96 648.33 L421.94 647.94 L422.92 647.52 L423.91 647.07 L424.89 646.59 L425.87 646.08 L426.86 645.54 L427.84 644.95 L428.82 644.33 L429.81 643.67 L430.79 642.97 L431.77 642.22 L432.75 641.43 L433.74 640.58 L434.72 639.68 L435.70 638.73 L436.69 637.72 L437.67 636.66 L438.65 635.53 L439.64 634.34 L440.62 633.08 L441.60 631.76 L442.58 630.37 L443.57 628.91 L444.55 627.38 L445.53 625.79 L446.52 624.12 L447.50 622.39 L448.48 620.60 L449.47 618.74 L450.45 616.82 L451.43 614.85 L452.42 612.83 L453.40 610.76 L454.38 608.66 L455.36 606.53 L456.35 604.37 L457.33 602.20 L458.31 600.03 L459.30 597.86 L460.28 595.71 L461.26 593.57 L462.25 591.47 L463.23 589.41 L464.21 587.39 L465.19 585.43 L466.18 583.53 L467.16 581.70 L468.14 579.94 L469.13 578.26 L470.11 576.65 L471.09 575.13 L472.08 573.69 L473.06 572.33 L474.04 571.05 L475.02 569.86 L476.01 568.74 L476.99 567.69 L477.97 566.72 L478.96 565.82 L479.94 564.99 L480.92 564.22 L481.91 563.52 L482.89 562.86 L483.87 562.26 L484.85 561.72 L485.84 561.21 L486.82 560.75 L487.80 560.33 L488.79 559.95 L489.77 559.60 L490.75 559.28 L491.74 558.99 L492.72 558.73 L493.70 558.49 L494.68 558.27 L495.67 558.07 L496.65 557.89 L497.63 557.73 L498.62 557.58 L499.60 557.45" stroke="#999" stroke-width="1.3" fill="none"/>
<g fill="#000"><rect x="348.95" y="636.85" width="4.5" height="4.5"/><rect x="356.95" y="657.05" width="4.5" height="4.5"/><rect x="365.25" y="642.05" width="4.5" height="4.5"/><rect x="373.35" y="658.45" width="4.5" height="4.5"/><rect x="381.75" y="656.35" width="4.5" height="4.5"/><rect x="390.05" y="656.35" width="4.5" height="4.5"/><rect x="398.55" y="654.95" width="4.5" height="4.5"/><rect x="407.35" y="649.65" width="4.5" height="4.5"/><rect x="416.25" y="641.65" width="4.5" height="4.5"/><rect x="424.95" y="654.55" width="4.5" height="4.5"/><rect x="433.65" y="632.85" width="4.5" height="4.5"/><rect x="442.75" y="626.35" width="4.5" height="4.5"/><rect x="451.55" y="603.05" width="4.5" height="4.5"/><rect x="460.75" y="590.75" width="4.5" height="4.5"/><rect x="469.85" y="576.25" width="4.5" height="4.5"/><rect x="479.25" y="560.55" width="4.5" height="4.5"/><rect x="488.65" y="545.35" width="4.5" height="4.5"/><rect x="497.85" y="550.35" width="4.5" height="4.5"/></g>
<text transform="translate(18.80,753.20) scale(0.95,1)" font-size="25.6" font-weight="bold" fill="#000" class="L">E</text>
<rect x="71.70" y="774.60" width="182.50" height="262.20" fill="none" stroke="#484848" stroke-width="1.25"/>
<line x1="71.70" y1="905.70" x2="254.20" y2="905.70" stroke="#484848" stroke-width="1.25"/>
<text x="75.20" y="768.00" text-anchor="middle" class="t" font-size="12.2" fill="#1a1a1a">0</text>
<text x="96.84" y="768.00" text-anchor="middle" class="t" font-size="12.2" fill="#1a1a1a">10</text>
<text x="118.48" y="768.00" text-anchor="middle" class="t" font-size="12.2" fill="#1a1a1a">20</text>
<text x="140.12" y="768.00" text-anchor="middle" class="t" font-size="12.2" fill="#1a1a1a">30</text>
<text x="161.76" y="768.00" text-anchor="middle" class="t" font-size="12.2" fill="#1a1a1a">40</text>
<text x="183.40" y="768.00" text-anchor="middle" class="t" font-size="12.2" fill="#1a1a1a">50</text>
<text x="205.04" y="768.00" text-anchor="middle" class="t" font-size="12.2" fill="#1a1a1a">60</text>
<text x="226.68" y="768.00" text-anchor="middle" class="t" font-size="12.2" fill="#1a1a1a">70</text>
<text x="248.32" y="768.00" text-anchor="middle" class="t" font-size="12.2" fill="#1a1a1a">80</text>
<text x="162.95" y="746.50" text-anchor="middle" font-size="12.6" letter-spacing="0.12" fill="#1a1a1a">Time (min)</text>
<text x="65.25" y="799.80" text-anchor="end" class="t" font-size="12.2" fill="#1a1a1a">0.00</text>
<text x="65.25" y="832.97" text-anchor="end" class="t" font-size="12.2" fill="#1a1a1a">-0.10</text>
<text x="65.25" y="866.14" text-anchor="end" class="t" font-size="12.2" fill="#1a1a1a">-0.20</text>
<text x="65.25" y="899.31" text-anchor="end" class="t" font-size="12.2" fill="#1a1a1a">-0.30</text>
<text x="65.25" y="929.80" text-anchor="end" class="t" font-size="12.2" fill="#1a1a1a">0.0</text>
<text x="65.25" y="973.70" text-anchor="end" class="t" font-size="12.2" fill="#1a1a1a">-2.0</text>
<text x="65.25" y="1017.60" text-anchor="end" class="t" font-size="12.2" fill="#1a1a1a">-4.0</text>
<text x="82.70" y="1054.10" text-anchor="middle" class="t" font-size="12.2" fill="#1a1a1a">0.0</text>
<text x="141.35" y="1054.10" text-anchor="middle" class="t" font-size="12.2" fill="#1a1a1a">0.5</text>
<text x="200.00" y="1054.10" text-anchor="middle" class="t" font-size="12.2" fill="#1a1a1a">1.0</text>
<path d="M75.20 774.60L75.20 778.60 M86.02 774.60L86.02 776.80 M96.84 774.60L96.84 778.60 M107.66 774.60L107.66 776.80 M118.48 774.60L118.48 778.60 M129.30 774.60L129.30 776.80 M140.12 774.60L140.12 778.60 M150.94 774.60L150.94 776.80 M161.76 774.60L161.76 778.60 M172.58 774.60L172.58 776.80 M183.40 774.60L183.40 778.60 M194.22 774.60L194.22 776.80 M205.04 774.60L205.04 778.60 M215.86 774.60L215.86 776.80 M226.68 774.60L226.68 778.60 M237.50 774.60L237.50 776.80 M248.32 774.60L248.32 778.60 M69.50 779.41L71.70 779.41 M252.00 779.41L254.20 779.41 M67.70 796.00L71.70 796.00 M250.20 796.00L254.20 796.00 M69.50 812.59L71.70 812.59 M252.00 812.59L254.20 812.59 M67.70 829.17L71.70 829.17 M250.20 829.17L254.20 829.17 M69.50 845.75L71.70 845.75 M252.00 845.75L254.20 845.75 M67.70 862.34L71.70 862.34 M250.20 862.34L254.20 862.34 M69.50 878.92L71.70 878.92 M252.00 878.92L254.20 878.92 M67.70 895.51L71.70 895.51 M250.20 895.51L254.20 895.51 M67.70 926.00L71.70 926.00 M250.20 926.00L254.20 926.00 M69.50 947.95L71.70 947.95 M252.00 947.95L254.20 947.95 M67.70 969.90L71.70 969.90 M250.20 969.90L254.20 969.90 M69.50 991.85L71.70 991.85 M252.00 991.85L254.20 991.85 M67.70 1013.80L71.70 1013.80 M250.20 1013.80L254.20 1013.80 M82.70 1036.80L82.70 1040.80 M82.70 905.70L82.70 909.70 M112.03 1036.80L112.03 1039.00 M112.03 905.70L112.03 907.90 M141.35 1036.80L141.35 1040.80 M141.35 905.70L141.35 909.70 M170.68 1036.80L170.68 1039.00 M170.68 905.70L170.68 907.90 M200.00 1036.80L200.00 1040.80 M200.00 905.70L200.00 909.70 M229.32 1036.80L229.32 1039.00 M229.32 905.70L229.32 907.90" stroke="#3a3a3a" stroke-width="1.0" fill="none"/>
<text x="85.60" y="1073.70" font-size="14.5" fill="#1a1a1a">c<tspan font-size="9.5" dx="0.6" dy="6.6">HO06</tspan><tspan dy="-6.6">/c</tspan><tspan font-size="9.5" dx="0.6" dy="6.6">PF4</tspan></text>
<text transform="translate(27.40,849.20) rotate(-90)" x="0" y="0" text-anchor="middle" font-size="12.9" fill="#1a1a1a">µcal/sec</text>
<text transform="translate(32.40,981.80) rotate(-90)" x="0" y="0" text-anchor="middle" font-size="12.9" fill="#1a1a1a">kcal mol<tspan font-size="7.10" dx="1.0" dy="-8">-1</tspan><tspan dy="8"> of injectant</tspan></text>
<path d="M74.20 796.16 L74.70 796.12 L75.20 796.08 L75.70 796.23 L76.20 795.90 L76.70 795.83 L77.20 795.54 L77.70 795.86 L78.20 795.53 L78.70 795.74 L79.20 795.64 L79.70 795.96 L80.20 795.73 L80.70 795.58 L81.20 795.54 L81.70 795.29 L82.20 795.43 L82.70 795.45 L83.20 795.79 L83.70 795.97 L84.20 796.00 L84.70 796.40 L85.20 796.47 L85.70 796.27 L86.20 795.76 L86.70 795.56 L87.20 795.75 L87.70 795.75 L88.20 795.72 L88.70 796.05 L89.20 796.17 L89.70 796.27 L90.20 795.92 L90.70 795.87 L91.20 796.19 L91.70 796.33 L92.20 796.58 L92.70 795.74 L93.20 795.71 L93.70 795.69 L94.20 796.65 L94.70 796.59 L95.20 796.07 L95.70 795.81 L96.20 795.69 L96.70 795.68 L97.20 795.45 L97.70 795.76 L98.20 796.33 L98.70 795.90 L99.20 796.19 L99.70 796.43 L100.20 796.08 L100.70 796.26 L101.20 795.06 L101.70 795.98 L102.20 796.08 L102.70 796.53 L103.20 796.29 L103.70 796.19 L104.20 796.06 L104.70 795.68 L105.20 795.37 L105.70 796.03 L106.20 796.31 L106.70 796.12 L107.20 796.00 L107.70 796.38 L108.20 796.46 L108.70 796.42 L109.20 796.02 L109.70 795.64 L110.20 795.52 L110.70 795.63 L111.20 795.87 L111.70 796.00 L112.20 796.13 L112.70 796.27 L113.20 795.76 L113.70 796.29 L114.20 796.24 L114.70 796.18 L115.20 796.15 L115.70 795.78 L116.20 796.67 L116.70 795.68 L117.20 796.18 L117.70 795.94 L118.20 796.41 L118.70 796.25 L119.20 796.07 L119.70 796.06 L120.20 796.09 L120.70 796.30 L121.20 796.10 L121.70 796.72 L122.20 796.40 L122.70 796.43 L123.20 795.93 L123.70 795.69 L124.20 795.67 L124.70 796.33 L125.20 796.48 L125.70 796.44 L126.20 796.33 L126.70 796.23 L127.20 796.24 L127.70 795.62 L128.20 795.76 L128.70 795.96 L129.20 796.01 L129.70 796.25 L130.20 795.83 L130.70 795.79 L131.20 796.13 L131.70 796.23 L132.20 795.97 L132.70 795.78 L133.20 795.59 L133.70 795.35 L134.20 795.74 L134.70 795.36 L135.20 795.75 L135.70 795.73 L136.20 795.93 L136.70 795.95 L137.20 795.94 L137.70 795.78 L138.20 795.95 L138.70 796.26 L139.20 796.54 L139.70 796.55 L140.20 795.69 L140.70 795.31 L141.20 795.10 L141.70 795.81 L142.20 796.30 L142.70 796.04 L143.20 796.06 L143.70 796.26 L144.20 796.00 L144.70 795.87 L145.20 795.84 L145.70 795.91 L146.20 795.89 L146.70 795.76 L147.20 795.52 L147.70 795.59 L148.20 795.66 L148.70 796.05 L149.20 795.85 L149.70 796.43 L150.20 796.36 L150.70 796.39 L151.20 796.06 L151.70 796.11 L152.20 796.27 L152.70 796.00 L153.20 795.78 L153.70 796.23 L154.20 796.17 L154.70 796.26 L155.20 795.85 L155.70 796.13 L156.20 795.94 L156.70 795.87 L157.20 796.11 L157.70 796.32 L158.20 796.17 L158.70 796.28 L159.20 795.89 L159.70 796.24 L160.20 795.95 L160.70 796.47 L161.20 796.41 L161.70 796.59 L162.20 796.33 L162.70 796.46 L163.20 796.32 L163.70 796.77 L164.20 796.42 L164.70 796.60 L165.20 796.25 L165.70 796.43 L166.20 796.06 L166.70 796.06 L167.20 795.71 L167.70 794.91 L168.20 795.60 L168.70 795.58 L169.20 796.17 L169.70 795.96 L170.20 796.35 L170.70 796.06 L171.20 796.21 L171.70 796.09 L172.20 796.00 L172.70 795.88 L173.20 796.17 L173.70 796.49 L174.20 796.79 L174.70 796.64 L175.20 796.36 L175.70 795.72 L176.20 795.78 L176.70 796.01 L177.20 796.28 L177.70 796.32 L178.20 796.41 L178.70 796.52 L179.20 796.57 L179.70 796.36 L180.20 795.97 L180.70 796.19 L181.20 795.48 L181.70 795.97 L182.20 795.89 L182.70 795.88 L183.20 795.56 L183.70 795.74 L184.20 795.85 L184.70 796.27 L185.20 796.45 L185.70 796.47 L186.20 796.31 L186.70 796.16 L187.20 796.15 L187.70 796.44 L188.20 795.87 L188.70 795.81 L189.20 796.01 L189.70 796.33 L190.20 796.13 L190.70 796.13 L191.20 796.08 L191.70 796.22 L192.20 795.72 L192.70 795.45 L193.20 796.07 L193.70 795.85 L194.20 795.74 L194.70 796.40 L195.20 796.29 L195.70 796.30 L196.20 795.79 L196.70 795.52 L197.20 795.78 L197.70 796.23 L198.20 796.42 L198.70 796.54 L199.20 796.00 L199.70 796.12 L200.20 796.42 L200.70 796.32 L201.20 796.53 L201.70 796.27 L202.20 796.17 L202.70 795.57 L203.20 795.09 L203.70 795.73 L204.20 795.95 L204.70 796.14 L205.20 796.08 L205.70 796.20 L206.20 796.29 L206.70 796.06 L207.20 796.28 L207.70 796.06 L208.20 796.51 L208.70 796.18 L209.20 796.17 L209.70 795.94 L210.20 796.12 L210.70 795.85 L211.20 795.76 L211.70 795.35 L212.20 795.61 L212.70 795.74 L213.20 795.85 L213.70 796.11 L214.20 796.58 L214.70 796.48 L215.20 796.38 L215.70 796.20 L216.20 795.51 L216.70 795.32 L217.20 795.62 L217.70 795.87 L218.20 796.30 L218.70 796.31 L219.20 796.34 L219.70 796.19 L220.20 796.12 L220.70 796.16 L221.20 796.26 L221.70 797.15 L222.20 796.28 L222.70 795.69 L223.20 795.33 L223.70 795.52 L224.20 795.35 L224.70 795.43 L225.20 795.46 L225.70 795.91 L226.20 795.76 L226.70 796.06 L227.20 796.51 L227.70 796.71 L228.20 796.61 L228.70 796.59 L229.20 796.39 L229.70 796.70 L230.20 796.18 L230.70 796.39 L231.20 795.51 L231.70 795.74 L232.20 795.50 L232.70 795.75 L233.20 795.98 L233.70 796.34 L234.20 796.28 L234.70 796.39 L235.20 796.13 L235.70 795.87 L236.20 795.98 L236.70 796.24 L237.20 796.02 L237.70 796.13 L238.20 796.06 L238.70 795.87 L239.20 795.71 L239.70 795.82 L240.20 795.98 L240.70 795.84 L241.20 795.57 L241.70 795.43 L242.20 795.69 L242.70 795.90 L243.20 796.08 L243.70 795.94 L244.20 795.90 L244.70 795.56 L245.20 795.03 L245.70 795.01 L246.20 794.94 L246.70 795.40 L247.20 795.12 L247.70 795.67 L248.20 795.60 L248.70 795.95 L249.20 795.69 L249.70 795.68 L250.20 795.24 L250.70 795.46 L251.20 795.28 L251.70 796.41" stroke="#4a4a4a" stroke-width="1.25" fill="none" stroke-linejoin="round"/>
<path d="M77.30 796.00L77.40 807.40L77.75 799.42C78.00 797.03 78.60 796.40 79.80 796.00 M86.20 796.00L86.30 896.70L86.65 826.21C86.90 805.06 87.50 796.40 88.70 796.00 M95.00 796.00L95.10 894.10L95.45 825.43C95.70 804.83 96.30 796.40 97.50 796.00 M103.50 796.00L103.60 879.00L103.95 820.90C104.20 803.47 104.80 796.40 106.00 796.00 M112.00 796.00L112.10 862.20L112.45 815.86C112.70 801.96 113.30 796.40 114.50 796.00 M120.90 796.00L121.00 844.20L121.35 810.46C121.60 800.34 122.20 796.40 123.40 796.00 M129.70 796.00L129.80 828.60L130.15 805.78C130.40 798.93 131.00 796.40 132.20 796.00 M138.20 796.00L138.30 818.90L138.65 802.87C138.90 798.06 139.50 796.40 140.70 796.00 M146.90 796.00L147.00 815.00L147.35 801.70C147.60 797.71 148.20 796.40 149.40 796.00 M155.40 796.00L155.50 810.00L155.85 800.20C156.10 797.26 156.70 796.40 157.90 796.00 M164.00 796.00L164.10 807.10L164.45 799.33C164.70 797.00 165.30 796.40 166.50 796.00 M172.80 796.00L172.90 793.20L173.10 805.20L173.80 796.00 M181.70 796.00L181.80 792.00L182.00 805.20L182.70 796.00 M190.40 796.00L190.50 790.50L190.70 803.80L191.40 796.00 M199.00 796.00L199.10 789.50L199.30 803.00L200.00 796.00 M207.50 796.00L207.60 789.00L207.80 803.00L208.50 796.00 M216.20 796.00L216.30 788.20L216.50 803.00L217.20 796.00 M224.90 796.00L225.00 788.20L225.20 804.30L225.90 796.00 M231.00 796.00L231.10 808.00L231.45 799.60C231.70 797.08 232.30 796.40 233.50 796.00 M233.70 796.00L233.80 784.00L234.00 796.00L234.70 796.00 M242.40 796.00L242.50 784.00L242.70 796.00L243.40 796.00" stroke="#000" stroke-opacity="0.42" stroke-width="1.15" fill="none" stroke-linejoin="round"/>
<path d="M77.55 796.00L77.55 801.13 M86.45 796.00L86.45 865.99 M95.25 796.00L95.25 853.88 M103.75 796.00L103.75 836.25 M112.25 796.00L112.25 844.33 M121.15 796.00L121.15 826.12 M129.95 796.00L129.95 812.95 M138.45 796.00L138.45 813.52 M147.15 796.00L147.15 808.54 M155.65 796.00L155.65 803.77 M164.25 796.00L164.25 801.00 M173.05 796.00L173.05 794.32 M181.95 796.00L181.95 793.60 M190.65 796.00L190.65 792.70 M199.25 796.00L199.25 792.10 M207.75 796.00L207.75 791.80 M216.45 796.00L216.45 791.32 M225.15 796.00L225.15 791.32 M231.25 796.00L231.25 803.92 M233.95 796.00L233.95 788.80 M242.65 796.00L242.65 788.80" stroke="#000" stroke-opacity="0.24" stroke-width="1.15" fill="none"/>
<path d="M84.20 1028.21 L85.19 1028.02 L86.17 1027.86 L87.16 1027.72 L88.15 1027.61 L89.14 1027.51 L90.12 1027.42 L91.11 1027.34 L92.10 1027.25 L93.09 1027.16 L94.07 1027.06 L95.06 1026.94 L96.05 1026.80 L97.04 1026.63 L98.02 1026.43 L99.01 1026.19 L100.00 1025.91 L100.99 1025.58 L101.97 1025.20 L102.96 1024.76 L103.95 1024.25 L104.94 1023.68 L105.92 1023.03 L106.91 1022.30 L107.90 1021.50 L108.89 1020.62 L109.87 1019.67 L110.86 1018.64 L111.85 1017.54 L112.84 1016.37 L113.82 1015.12 L114.81 1013.80 L115.80 1012.41 L116.78 1010.94 L117.77 1009.41 L118.76 1007.81 L119.75 1006.13 L120.73 1004.39 L121.72 1002.58 L122.71 1000.71 L123.70 998.76 L124.68 996.76 L125.67 994.69 L126.66 992.56 L127.65 990.39 L128.63 988.18 L129.62 985.95 L130.61 983.69 L131.60 981.42 L132.58 979.14 L133.57 976.86 L134.56 974.59 L135.55 972.34 L136.53 970.11 L137.52 967.92 L138.51 965.77 L139.50 963.67 L140.48 961.62 L141.47 959.64 L142.46 957.74 L143.45 955.91 L144.43 954.17 L145.42 952.53 L146.41 950.99 L147.39 949.55 L148.38 948.20 L149.37 946.94 L150.36 945.77 L151.34 944.68 L152.33 943.67 L153.32 942.73 L154.31 941.85 L155.29 941.04 L156.28 940.28 L157.27 939.58 L158.26 938.92 L159.24 938.31 L160.23 937.74 L161.22 937.20 L162.21 936.69 L163.19 936.21 L164.18 935.74 L165.17 935.30 L166.16 934.86 L167.14 934.45 L168.13 934.05 L169.12 933.66 L170.11 933.29 L171.09 932.94 L172.08 932.60 L173.07 932.27 L174.06 931.96 L175.04 931.65 L176.03 931.37 L177.02 931.09 L178.01 930.83 L178.99 930.58 L179.98 930.34 L180.97 930.11 L181.95 929.90 L182.94 929.69 L183.93 929.50 L184.92 929.31 L185.90 929.14 L186.89 928.98 L187.88 928.82 L188.87 928.67 L189.85 928.54 L190.84 928.41 L191.83 928.29 L192.82 928.18 L193.80 928.07 L194.79 927.97 L195.78 927.88 L196.77 927.80 L197.75 927.72 L198.74 927.65 L199.73 927.59 L200.72 927.53 L201.70 927.47 L202.69 927.42 L203.68 927.38 L204.67 927.34 L205.65 927.30 L206.64 927.27 L207.63 927.24 L208.62 927.21 L209.60 927.19 L210.59 927.17 L211.58 927.15 L212.56 927.13 L213.55 927.12 L214.54 927.10 L215.53 927.09 L216.51 927.08 L217.50 927.07 L218.49 927.05 L219.48 927.04 L220.46 927.03 L221.45 927.02 L222.44 927.00 L223.43 926.99 L224.41 926.97 L225.40 926.95 L226.39 926.93 L227.38 926.91 L228.36 926.88 L229.35 926.85 L230.34 926.82 L231.33 926.78 L232.31 926.74 L233.30 926.70 L234.29 926.65 L235.28 926.59 L236.26 926.53 L237.25 926.46 L238.24 926.39 L239.23 926.32 L240.21 926.23 L241.20 926.14" stroke="#999" stroke-width="1.3" fill="none"/>
<g fill="#000"><rect x="89.55" y="1015.95" width="4.5" height="4.5"/><rect x="97.25" y="1025.75" width="4.5" height="4.5"/><rect x="104.95" y="1025.05" width="4.5" height="4.5"/><rect x="112.85" y="1013.85" width="4.5" height="4.5"/><rect x="120.45" y="996.15" width="4.5" height="4.5"/><rect x="128.75" y="976.75" width="4.5" height="4.5"/><rect x="136.75" y="961.15" width="4.5" height="4.5"/><rect x="144.75" y="951.95" width="4.5" height="4.5"/><rect x="153.05" y="940.75" width="4.5" height="4.5"/><rect x="161.05" y="933.95" width="4.5" height="4.5"/><rect x="169.75" y="930.55" width="4.5" height="4.5"/><rect x="178.05" y="927.85" width="4.5" height="4.5"/><rect x="186.75" y="925.95" width="4.5" height="4.5"/><rect x="195.25" y="922.85" width="4.5" height="4.5"/><rect x="203.95" y="924.35" width="4.5" height="4.5"/><rect x="212.55" y="922.65" width="4.5" height="4.5"/><rect x="221.05" y="923.75" width="4.5" height="4.5"/><rect x="230.15" y="912.35" width="4.5" height="4.5"/><rect x="238.95" y="915.95" width="4.5" height="4.5"/></g>
<text transform="translate(281.20,753.40) scale(0.95,1)" font-size="25.6" font-weight="bold" fill="#000" class="L">F</text>
<rect x="330.60" y="772.50" width="182.40" height="262.00" fill="none" stroke="#484848" stroke-width="1.25"/>
<line x1="330.60" y1="903.40" x2="513.00" y2="903.40" stroke="#484848" stroke-width="1.25"/>
<text x="334.10" y="765.20" text-anchor="middle" class="t" font-size="12.2" fill="#1a1a1a">0</text>
<text x="355.71" y="765.20" text-anchor="middle" class="t" font-size="12.2" fill="#1a1a1a">10</text>
<text x="377.32" y="765.20" text-anchor="middle" class="t" font-size="12.2" fill="#1a1a1a">20</text>
<text x="398.93" y="765.20" text-anchor="middle" class="t" font-size="12.2" fill="#1a1a1a">30</text>
<text x="420.54" y="765.20" text-anchor="middle" class="t" font-size="12.2" fill="#1a1a1a">40</text>
<text x="442.15" y="765.20" text-anchor="middle" class="t" font-size="12.2" fill="#1a1a1a">50</text>
<text x="463.76" y="765.20" text-anchor="middle" class="t" font-size="12.2" fill="#1a1a1a">60</text>
<text x="485.37" y="765.20" text-anchor="middle" class="t" font-size="12.2" fill="#1a1a1a">70</text>
<text x="506.98" y="765.20" text-anchor="middle" class="t" font-size="12.2" fill="#1a1a1a">80</text>
<text x="421.80" y="744.00" text-anchor="middle" font-size="12.6" letter-spacing="0.12" fill="#1a1a1a">Time (min)</text>
<text x="324.15" y="816.00" text-anchor="end" class="t" font-size="12.2" fill="#1a1a1a">0.00</text>
<text x="324.15" y="857.65" text-anchor="end" class="t" font-size="12.2" fill="#1a1a1a">-0.05</text>
<text x="324.15" y="899.30" text-anchor="end" class="t" font-size="12.2" fill="#1a1a1a">-0.10</text>
<text x="324.15" y="930.00" text-anchor="end" class="t" font-size="12.2" fill="#1a1a1a">0.0</text>
<text x="324.15" y="978.90" text-anchor="end" class="t" font-size="12.2" fill="#1a1a1a">-0.5</text>
<text x="324.15" y="1027.80" text-anchor="end" class="t" font-size="12.2" fill="#1a1a1a">-1.0</text>
<text x="341.70" y="1051.80" text-anchor="middle" class="t" font-size="12.2" fill="#1a1a1a">0.0</text>
<text x="379.65" y="1051.80" text-anchor="middle" class="t" font-size="12.2" fill="#1a1a1a">0.5</text>
<text x="417.60" y="1051.80" text-anchor="middle" class="t" font-size="12.2" fill="#1a1a1a">1.0</text>
<text x="455.55" y="1051.80" text-anchor="middle" class="t" font-size="12.2" fill="#1a1a1a">1.5</text>
<text x="493.50" y="1051.80" text-anchor="middle" class="t" font-size="12.2" fill="#1a1a1a">2.0</text>
<path d="M334.10 772.50L334.10 776.50 M344.91 772.50L344.91 774.70 M355.71 772.50L355.71 776.50 M366.52 772.50L366.52 774.70 M377.32 772.50L377.32 776.50 M388.12 772.50L388.12 774.70 M398.93 772.50L398.93 776.50 M409.74 772.50L409.74 774.70 M420.54 772.50L420.54 776.50 M431.35 772.50L431.35 774.70 M442.15 772.50L442.15 776.50 M452.96 772.50L452.96 774.70 M463.76 772.50L463.76 776.50 M474.57 772.50L474.57 774.70 M485.37 772.50L485.37 776.50 M496.18 772.50L496.18 774.70 M506.98 772.50L506.98 776.50 M328.40 791.38L330.60 791.38 M510.80 791.38L513.00 791.38 M326.60 812.20L330.60 812.20 M509.00 812.20L513.00 812.20 M328.40 833.03L330.60 833.03 M510.80 833.03L513.00 833.03 M326.60 853.85L330.60 853.85 M509.00 853.85L513.00 853.85 M328.40 874.68L330.60 874.68 M510.80 874.68L513.00 874.68 M326.60 895.50L330.60 895.50 M509.00 895.50L513.00 895.50 M326.60 926.20L330.60 926.20 M509.00 926.20L513.00 926.20 M328.40 950.65L330.60 950.65 M510.80 950.65L513.00 950.65 M326.60 975.10L330.60 975.10 M509.00 975.10L513.00 975.10 M328.40 999.55L330.60 999.55 M510.80 999.55L513.00 999.55 M326.60 1024.00L330.60 1024.00 M509.00 1024.00L513.00 1024.00 M341.70 1034.50L341.70 1038.50 M341.70 903.40L341.70 907.40 M360.68 1034.50L360.68 1036.70 M360.68 903.40L360.68 905.60 M379.65 1034.50L379.65 1038.50 M379.65 903.40L379.65 907.40 M398.62 1034.50L398.62 1036.70 M398.62 903.40L398.62 905.60 M417.60 1034.50L417.60 1038.50 M417.60 903.40L417.60 907.40 M436.57 1034.50L436.57 1036.70 M436.57 903.40L436.57 905.60 M455.55 1034.50L455.55 1038.50 M455.55 903.40L455.55 907.40 M474.52 1034.50L474.52 1036.70 M474.52 903.40L474.52 905.60 M493.50 1034.50L493.50 1038.50 M493.50 903.40L493.50 907.40" stroke="#3a3a3a" stroke-width="1.0" fill="none"/>
<text x="362.40" y="1073.70" font-size="14.5" fill="#1a1a1a">c<tspan font-size="9.5" dx="0.6" dy="6.6">Fondaparinux</tspan><tspan dy="-6.6">/c</tspan><tspan font-size="9.5" dx="0.6" dy="6.6">PF4</tspan></text>
<text transform="translate(286.90,845.90) rotate(-90)" x="0" y="0" text-anchor="middle" font-size="12.9" fill="#1a1a1a">µcal/sec</text>
<text transform="translate(293.80,979.80) rotate(-90)" x="0" y="0" text-anchor="middle" font-size="12.9" fill="#1a1a1a">kcal mol<tspan font-size="7.10" dx="1.0" dy="-8">-1</tspan><tspan dy="8"> of injectant</tspan></text>
<path d="M333.10 810.96 L333.50 813.49 L333.90 810.82 L334.30 813.31 L334.70 812.29 L335.10 811.14 L335.50 810.88 L335.90 811.74 L336.30 812.04 L336.70 811.31 L337.10 812.67 L337.50 810.58 L337.90 810.75 L338.30 812.07 L338.70 810.07 L339.10 813.75 L339.50 810.72 L339.90 809.41 L340.30 811.41 L340.70 811.82 L341.10 813.03 L341.50 811.55 L341.90 813.64 L342.30 813.60 L342.70 813.23 L343.10 813.48 L343.50 812.44 L343.90 811.47 L344.30 812.76 L344.70 813.10 L345.10 812.32 L345.50 811.81 L345.90 808.32 L346.30 812.79 L346.70 812.44 L347.10 810.68 L347.50 812.17 L347.90 812.84 L348.30 811.95 L348.70 812.90 L349.10 812.87 L349.50 810.50 L349.90 811.75 L350.30 812.58 L350.70 813.04 L351.10 813.57 L351.50 810.03 L351.90 812.00 L352.30 812.83 L352.70 812.07 L353.10 813.86 L353.50 811.07 L353.90 811.67 L354.30 810.95 L354.70 812.94 L355.10 808.53 L355.50 813.33 L355.90 813.06 L356.30 812.59 L356.70 809.76 L357.10 811.35 L357.50 811.66 L357.90 810.56 L358.30 811.81 L358.70 811.96 L359.10 813.01 L359.50 812.37 L359.90 812.36 L360.30 811.60 L360.70 812.07 L361.10 811.92 L361.50 811.51 L361.90 811.88 L362.30 813.17 L362.70 810.26 L363.10 813.34 L363.50 811.89 L363.90 813.27 L364.30 812.16 L364.70 812.97 L365.10 813.65 L365.50 812.86 L365.90 812.15 L366.30 811.89 L366.70 812.29 L367.10 810.35 L367.50 810.57 L367.90 811.80 L368.30 811.23 L368.70 811.86 L369.10 810.43 L369.50 813.55 L369.90 812.54 L370.30 814.06 L370.70 811.14 L371.10 810.83 L371.50 812.36 L371.90 810.30 L372.30 812.30 L372.70 809.45 L373.10 811.71 L373.50 812.33 L373.90 812.11 L374.30 814.04 L374.70 812.73 L375.10 810.70 L375.50 813.10 L375.90 810.65 L376.30 812.15 L376.70 810.74 L377.10 811.19 L377.50 813.45 L377.90 811.47 L378.30 811.38 L378.70 811.47 L379.10 811.73 L379.50 813.59 L379.90 810.81 L380.30 810.75 L380.70 812.67 L381.10 810.37 L381.50 811.67 L381.90 811.73 L382.30 812.06 L382.70 811.55 L383.10 811.31 L383.50 811.09 L383.90 811.43 L384.30 812.20 L384.70 813.37 L385.10 813.08 L385.50 811.46 L385.90 811.28 L386.30 812.79 L386.70 811.61 L387.10 811.59 L387.50 811.71 L387.90 810.88 L388.30 811.00 L388.70 812.42 L389.10 810.30 L389.50 811.08 L389.90 811.36 L390.30 810.67 L390.70 810.60 L391.10 813.19 L391.50 811.72 L391.90 811.77 L392.30 809.53 L392.70 811.33 L393.10 811.01 L393.50 813.25 L393.90 812.25 L394.30 811.92 L394.70 813.08 L395.10 811.29 L395.50 812.70 L395.90 812.06 L396.30 811.10 L396.70 812.83 L397.10 810.46 L397.50 810.98 L397.90 811.10 L398.30 812.46 L398.70 813.48 L399.10 812.62 L399.50 811.39 L399.90 812.00 L400.30 811.64 L400.70 809.19 L401.10 810.86 L401.50 812.07 L401.90 812.58 L402.30 810.17 L402.70 811.94 L403.10 812.55 L403.50 812.13 L403.90 810.97 L404.30 813.10 L404.70 810.74 L405.10 812.69 L405.50 813.69 L405.90 809.88 L406.30 812.28 L406.70 812.34 L407.10 812.25 L407.50 811.21 L407.90 811.68 L408.30 810.55 L408.70 812.15 L409.10 812.57 L409.50 811.31 L409.90 811.04 L410.30 811.51 L410.70 812.00 L411.10 812.07 L411.50 811.90 L411.90 812.07 L412.30 810.64 L412.70 809.16 L413.10 810.94 L413.50 813.48 L413.90 810.53 L414.30 811.31 L414.70 814.05 L415.10 812.99 L415.50 812.67 L415.90 814.58 L416.30 811.94 L416.70 812.43 L417.10 812.43 L417.50 811.55 L417.90 813.25 L418.30 812.65 L418.70 813.01 L419.10 811.59 L419.50 813.07 L419.90 810.90 L420.30 813.96 L420.70 809.29 L421.10 810.95 L421.50 814.00 L421.90 811.53 L422.30 812.18 L422.70 810.31 L423.10 813.60 L423.50 812.61 L423.90 811.97 L424.30 812.43 L424.70 812.33 L425.10 813.46 L425.50 812.22 L425.90 810.47 L426.30 811.73 L426.70 813.32 L427.10 812.58 L427.50 811.56 L427.90 812.63 L428.30 812.12 L428.70 812.62 L429.10 810.36 L429.50 811.07 L429.90 812.68 L430.30 811.76 L430.70 812.36 L431.10 814.02 L431.50 811.67 L431.90 812.24 L432.30 811.42 L432.70 811.35 L433.10 809.83 L433.50 810.50 L433.90 809.83 L434.30 813.40 L434.70 811.89 L435.10 813.15 L435.50 812.12 L435.90 812.15 L436.30 812.69 L436.70 812.73 L437.10 810.76 L437.50 813.24 L437.90 811.00 L438.30 812.20 L438.70 814.63 L439.10 812.08 L439.50 813.71 L439.90 811.64 L440.30 812.63 L440.70 812.05 L441.10 812.43 L441.50 811.12 L441.90 811.05 L442.30 812.34 L442.70 810.39 L443.10 811.13 L443.50 812.66 L443.90 811.36 L444.30 811.08 L444.70 810.86 L445.10 812.15 L445.50 811.62 L445.90 812.15 L446.30 811.80 L446.70 813.90 L447.10 811.55 L447.50 809.99 L447.90 812.12 L448.30 812.00 L448.70 812.16 L449.10 810.35 L449.50 813.16 L449.90 811.96 L450.30 814.02 L450.70 810.38 L451.10 812.48 L451.50 811.93 L451.90 813.38 L452.30 811.57 L452.70 810.73 L453.10 812.13 L453.50 811.06 L453.90 812.42 L454.30 810.89 L454.70 811.87 L455.10 811.77 L455.50 811.96 L455.90 811.47 L456.30 811.17 L456.70 811.94 L457.10 811.41 L457.50 812.15 L457.90 811.72 L458.30 809.71 L458.70 813.58 L459.10 813.41 L459.50 812.31 L459.90 812.61 L460.30 812.46 L460.70 811.52 L461.10 810.64 L461.50 812.82 L461.90 813.07 L462.30 812.57 L462.70 812.43 L463.10 812.40 L463.50 811.97 L463.90 812.28 L464.30 812.01 L464.70 812.33 L465.10 811.04 L465.50 811.36 L465.90 812.57 L466.30 811.66 L466.70 809.56 L467.10 812.12 L467.50 809.69 L467.90 813.93 L468.30 812.72 L468.70 812.68 L469.10 811.33 L469.50 810.86 L469.90 811.79 L470.30 812.02 L470.70 811.23 L471.10 812.16 L471.50 812.69 L471.90 812.60 L472.30 810.96 L472.70 809.83 L473.10 812.01 L473.50 811.34 L473.90 812.45 L474.30 813.65 L474.70 813.65 L475.10 812.29 L475.50 813.11 L475.90 813.65 L476.30 812.05 L476.70 812.28 L477.10 812.86 L477.50 811.97 L477.90 811.51 L478.30 811.26 L478.70 812.02 L479.10 811.39 L479.50 812.81 L479.90 811.68 L480.30 813.47 L480.70 813.22 L481.10 810.78 L481.50 813.09 L481.90 811.61 L482.30 813.38 L482.70 812.53 L483.10 811.97 L483.50 812.69 L483.90 811.46 L484.30 813.75 L484.70 812.40 L485.10 811.87 L485.50 812.40 L485.90 811.03 L486.30 812.57 L486.70 810.82 L487.10 811.13 L487.50 812.49 L487.90 812.73 L488.30 811.47 L488.70 815.03 L489.10 811.80 L489.50 810.95 L489.90 811.28 L490.30 813.44 L490.70 811.57 L491.10 813.01 L491.50 811.10 L491.90 812.34 L492.30 811.67 L492.70 812.95 L493.10 811.75 L493.50 811.19 L493.90 812.48 L494.30 810.86 L494.70 811.10 L495.10 811.54 L495.50 810.20 L495.90 812.79 L496.30 811.65 L496.70 809.51 L497.10 812.29 L497.50 812.67 L497.90 811.47 L498.30 811.88 L498.70 812.83 L499.10 812.79 L499.50 812.00 L499.90 811.30 L500.30 811.13 L500.70 812.68 L501.10 812.72 L501.50 812.62 L501.90 812.35 L502.30 813.42 L502.70 811.76 L503.10 811.69 L503.50 811.68 L503.90 813.93 L504.30 810.05 L504.70 812.35 L505.10 812.50 L505.50 812.12 L505.90 814.34 L506.30 813.21 L506.70 812.82 L507.10 811.19 L507.50 812.55 L507.90 811.71 L508.30 812.11 L508.70 812.27 L509.10 811.60 L509.50 812.69 L509.90 813.66 L510.30 813.08 L510.70 812.29" stroke="#262626" stroke-width="1.0" fill="none" stroke-linejoin="round"/>
<path d="M336.10 812.10L336.20 819.30L336.55 812.82C336.80 812.32 336.65 812.50 337.10 812.10 M344.90 812.10L345.00 895.00L345.35 820.39C345.60 814.59 345.45 812.50 345.90 812.10 M353.80 812.10L353.90 892.20L354.25 820.11C354.50 814.50 354.35 812.50 354.80 812.10 M362.30 812.10L362.40 890.40L362.75 819.93C363.00 814.45 362.85 812.50 363.30 812.10 M370.90 812.10L371.00 880.90L371.35 818.98C371.60 814.16 371.45 812.50 371.90 812.10 M379.80 812.10L379.90 878.60L380.25 818.75C380.50 814.10 380.35 812.50 380.80 812.10 M388.30 812.10L388.40 875.00L388.75 818.39C389.00 813.99 388.85 812.50 389.30 812.10 M397.10 812.10L397.20 872.40L397.55 818.13C397.80 813.91 397.65 812.50 398.10 812.10 M405.60 812.10L405.70 871.50L406.05 818.04C406.30 813.88 406.15 812.50 406.60 812.10 M414.30 812.10L414.40 866.20L414.75 817.51C415.00 813.72 414.85 812.50 415.30 812.10 M423.00 812.10L423.10 802.40L423.30 857.50L424.00 812.10 M431.70 812.10L431.80 802.70L432.00 854.40L432.70 812.10 M440.30 812.10L440.40 800.90L440.60 853.90L441.30 812.10 M449.20 812.10L449.30 796.00L449.50 847.60L450.20 812.10 M457.90 812.10L458.00 792.40L458.20 847.60L458.90 812.10 M466.60 812.10L466.70 793.30L466.90 844.00L467.60 812.10 M475.10 812.10L475.20 787.90L475.40 844.00L476.10 812.10 M483.70 812.10L483.80 790.00L484.00 847.60L484.70 812.10 M492.60 812.10L492.70 784.30L492.90 839.40L493.60 812.10 M501.30 812.10L501.40 781.00L501.60 838.90L502.30 812.10" stroke="#000" stroke-opacity="0.42" stroke-width="1.15" fill="none" stroke-linejoin="round"/>
<path d="M336.35 812.10L336.35 815.34 M345.15 812.10L345.15 869.72 M354.05 812.10L354.05 859.36 M362.55 812.10L362.55 850.08 M371.15 812.10L371.15 862.32 M380.05 812.10L380.05 853.66 M388.55 812.10L388.55 844.81 M397.35 812.10L397.35 858.23 M405.85 812.10L405.85 851.30 M414.55 812.10L414.55 842.13 M423.25 812.10L423.25 806.28 M431.95 812.10L431.95 806.46 M440.55 812.10L440.55 805.38 M449.45 812.10L449.45 802.44 M458.15 812.10L458.15 800.28 M466.85 812.10L466.85 800.82 M475.35 812.10L475.35 797.58 M483.95 812.10L483.95 798.84 M492.85 812.10L492.85 795.42 M501.55 812.10L501.55 793.44" stroke="#000" stroke-opacity="0.24" stroke-width="1.15" fill="none"/>
<path d="M343.30 1021.04 L344.28 1021.01 L345.27 1020.98 L346.25 1020.95 L347.23 1020.92 L348.22 1020.88 L349.20 1020.84 L350.18 1020.80 L351.16 1020.75 L352.15 1020.71 L353.13 1020.66 L354.11 1020.61 L355.10 1020.55 L356.08 1020.49 L357.06 1020.43 L358.05 1020.36 L359.03 1020.30 L360.01 1020.22 L360.99 1020.14 L361.98 1020.06 L362.96 1019.98 L363.94 1019.88 L364.93 1019.79 L365.91 1019.68 L366.89 1019.57 L367.88 1019.46 L368.86 1019.34 L369.84 1019.21 L370.82 1019.07 L371.81 1018.93 L372.79 1018.78 L373.77 1018.62 L374.76 1018.45 L375.74 1018.27 L376.72 1018.08 L377.71 1017.88 L378.69 1017.67 L379.67 1017.45 L380.65 1017.21 L381.64 1016.97 L382.62 1016.71 L383.60 1016.43 L384.59 1016.14 L385.57 1015.83 L386.55 1015.51 L387.54 1015.17 L388.52 1014.82 L389.50 1014.44 L390.48 1014.05 L391.47 1013.63 L392.45 1013.20 L393.43 1012.74 L394.42 1012.26 L395.40 1011.76 L396.38 1011.23 L397.37 1010.68 L398.35 1010.10 L399.33 1009.49 L400.32 1008.86 L401.30 1008.20 L402.28 1007.51 L403.26 1006.79 L404.25 1006.04 L405.23 1005.26 L406.21 1004.45 L407.20 1003.60 L408.18 1002.73 L409.16 1001.82 L410.15 1000.88 L411.13 999.91 L412.11 998.91 L413.09 997.87 L414.08 996.80 L415.06 995.70 L416.04 994.58 L417.03 993.42 L418.01 992.23 L418.99 991.02 L419.98 989.78 L420.96 988.52 L421.94 987.24 L422.92 985.93 L423.91 984.61 L424.89 983.27 L425.87 981.92 L426.86 980.55 L427.84 979.18 L428.82 977.80 L429.81 976.41 L430.79 975.03 L431.77 973.64 L432.75 972.26 L433.74 970.89 L434.72 969.52 L435.70 968.17 L436.69 966.83 L437.67 965.50 L438.65 964.20 L439.64 962.91 L440.62 961.65 L441.60 960.42 L442.58 959.20 L443.57 958.02 L444.55 956.87 L445.53 955.74 L446.52 954.65 L447.50 953.59 L448.48 952.56 L449.47 951.57 L450.45 950.61 L451.43 949.68 L452.42 948.78 L453.40 947.92 L454.38 947.09 L455.36 946.30 L456.35 945.54 L457.33 944.81 L458.31 944.11 L459.30 943.44 L460.28 942.80 L461.26 942.19 L462.25 941.61 L463.23 941.06 L464.21 940.53 L465.19 940.03 L466.18 939.55 L467.16 939.10 L468.14 938.67 L469.13 938.26 L470.11 937.88 L471.09 937.51 L472.08 937.17 L473.06 936.84 L474.04 936.53 L475.02 936.24 L476.01 935.96 L476.99 935.70 L477.97 935.45 L478.96 935.22 L479.94 935.00 L480.92 934.79 L481.91 934.59 L482.89 934.41 L483.87 934.24 L484.85 934.07 L485.84 933.92 L486.82 933.77 L487.80 933.63 L488.79 933.51 L489.77 933.38 L490.75 933.27 L491.74 933.16 L492.72 933.06 L493.70 932.97 L494.68 932.88 L495.67 932.79 L496.65 932.71 L497.63 932.64 L498.62 932.57 L499.60 932.50" stroke="#999" stroke-width="1.3" fill="none"/>
<g fill="#000"><rect x="348.45" y="1019.85" width="4.5" height="4.5"/><rect x="356.05" y="1023.35" width="4.5" height="4.5"/><rect x="364.05" y="1019.85" width="4.5" height="4.5"/><rect x="371.65" y="1002.65" width="4.5" height="4.5"/><rect x="379.55" y="1014.15" width="4.5" height="4.5"/><rect x="387.55" y="1013.15" width="4.5" height="4.5"/><rect x="395.55" y="1008.65" width="4.5" height="4.5"/><rect x="403.45" y="1003.05" width="4.5" height="4.5"/><rect x="411.75" y="996.45" width="4.5" height="4.5"/><rect x="419.75" y="972.95" width="4.5" height="4.5"/><rect x="428.55" y="974.65" width="4.5" height="4.5"/><rect x="436.75" y="965.55" width="4.5" height="4.5"/><rect x="445.25" y="948.95" width="4.5" height="4.5"/><rect x="453.95" y="946.55" width="4.5" height="4.5"/><rect x="462.55" y="948.05" width="4.5" height="4.5"/><rect x="471.25" y="933.05" width="4.5" height="4.5"/><rect x="480.15" y="942.95" width="4.5" height="4.5"/><rect x="488.95" y="910.05" width="4.5" height="4.5"/><rect x="497.65" y="923.65" width="4.5" height="4.5"/></g>
</svg>
</body></html>
